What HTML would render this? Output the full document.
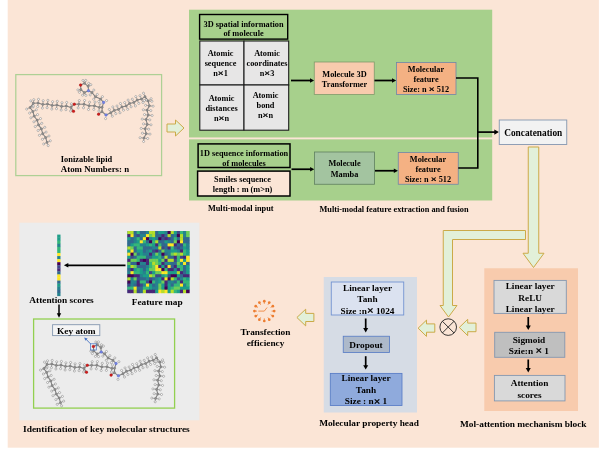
<!DOCTYPE html>
<html><head><meta charset="utf-8"><title>Figure</title>
<style>
html,body{margin:0;padding:0;background:#fff;}
svg{display:block;opacity:0.999}
.x{font-size:1.25em;stroke:#000;stroke-width:0.3px}
.t{font-family:"Liberation Serif","DejaVu Serif",serif;font-weight:bold;fill:#000;}
</style></head><body>
<svg width="600" height="457" viewBox="0 0 600 457">
<rect x="0" y="0" width="600" height="457" fill="#fff"/>
<rect x="7.70" y="0.00" width="591.20" height="447.70" fill="#fbe5d6"/><rect x="189.00" y="9.70" width="303.20" height="127.75" fill="#a7d08c"/><rect x="189.00" y="139.35" width="303.20" height="61.15" fill="#a7d08c"/><rect x="15.80" y="74.60" width="145.80" height="101.00" fill="#fbe5d6" stroke="#aed095" stroke-width="1.25"/><rect x="199.60" y="14.50" width="88.10" height="24.60" fill="#a7d08c" stroke="#000" stroke-width="1.4"/><text transform="translate(243.50,26.55) scale(1.1364,1)" font-size="7.30" text-anchor="middle" class="t" >3D spatial information</text><text transform="translate(243.50,36.05) scale(1.1364,1)" font-size="7.30" text-anchor="middle" class="t" >of molecule</text><rect x="199.80" y="41.00" width="44.20" height="44.00" fill="#e7e6e6" stroke="#1c1c1c" stroke-width="1.1"/><rect x="244.00" y="41.00" width="44.70" height="44.00" fill="#e7e6e6" stroke="#1c1c1c" stroke-width="1.1"/><rect x="199.80" y="85.00" width="44.20" height="45.20" fill="#e7e6e6" stroke="#1c1c1c" stroke-width="1.1"/><rect x="244.00" y="85.00" width="44.70" height="45.20" fill="#e7e6e6" stroke="#1c1c1c" stroke-width="1.1"/><text transform="translate(220.50,56.05) scale(1.1364,1)" font-size="7.30" text-anchor="middle" class="t" >Atomic</text><text transform="translate(220.50,66.05) scale(1.1364,1)" font-size="7.30" text-anchor="middle" class="t" >sequence</text><text transform="translate(220.50,76.05) scale(1.1364,1)" font-size="7.30" text-anchor="middle" class="t" >n<tspan class="x" dy="0.04em">×</tspan><tspan dy="-0.05em">​</tspan>1</text><text transform="translate(267.00,56.00) scale(1.1364,1)" font-size="7.30" text-anchor="middle" class="t" >Atomic</text><text transform="translate(267.00,66.00) scale(1.1364,1)" font-size="7.30" text-anchor="middle" class="t" >coordinates</text><text transform="translate(267.00,76.00) scale(1.1364,1)" font-size="7.30" text-anchor="middle" class="t" >n<tspan class="x" dy="0.04em">×</tspan><tspan dy="-0.05em">​</tspan>3</text><text transform="translate(221.50,100.50) scale(1.1364,1)" font-size="7.30" text-anchor="middle" class="t" >Atomic</text><text transform="translate(221.50,110.50) scale(1.1364,1)" font-size="7.30" text-anchor="middle" class="t" >distances</text><text transform="translate(221.50,120.50) scale(1.1364,1)" font-size="7.30" text-anchor="middle" class="t" >n<tspan class="x" dy="0.04em">×</tspan><tspan dy="-0.05em">​</tspan>n</text><text transform="translate(265.50,97.90) scale(1.1364,1)" font-size="7.30" text-anchor="middle" class="t" >Atomic</text><text transform="translate(265.50,107.90) scale(1.1364,1)" font-size="7.30" text-anchor="middle" class="t" >bond</text><text transform="translate(265.50,117.90) scale(1.1364,1)" font-size="7.30" text-anchor="middle" class="t" >n<tspan class="x" dy="0.04em">×</tspan><tspan dy="-0.05em">​</tspan>n</text><rect x="198.10" y="143.90" width="91.90" height="23.60" fill="#a7d08c" stroke="#000" stroke-width="1.5"/><text transform="translate(244.00,155.95) scale(1.1364,1)" font-size="7.30" text-anchor="middle" class="t" >1D sequence information</text><text transform="translate(244.00,165.65) scale(1.1364,1)" font-size="7.30" text-anchor="middle" class="t" >of molecules</text><rect x="197.60" y="171.10" width="92.40" height="24.90" fill="#fbe5d6" stroke="#000" stroke-width="1.5"/><text transform="translate(242.50,181.70) scale(1.1364,1)" font-size="7.30" text-anchor="middle" class="t" >Smiles sequence</text><text transform="translate(242.50,191.90) scale(1.1364,1)" font-size="7.30" text-anchor="middle" class="t" >length : m (m&gt;n)</text><text transform="translate(240.75,210.80) scale(1.0870,1)" font-size="7.64" text-anchor="middle" class="t" >Multi-modal input</text><text transform="translate(394.00,211.70) scale(1.0870,1)" font-size="7.64" text-anchor="middle" class="t" >Multi-modal feature extraction and fusion</text><line x1="291.00" y1="80.50" x2="310.84" y2="80.50" stroke="#000" stroke-width="1.75"/><polygon points="314.20,80.50 310.00,78.30 310.00,82.70" fill="#000"/><rect x="314.25" y="62.00" width="60.00" height="32.50" fill="#f8cbad" stroke="#7f9a6a" stroke-width="0.8"/><text transform="translate(344.50,76.80) scale(1.1364,1)" font-size="7.30" text-anchor="middle" class="t" >Molecule 3D</text><text transform="translate(344.50,86.80) scale(1.1364,1)" font-size="7.30" text-anchor="middle" class="t" >Transformer</text><line x1="374.50" y1="80.50" x2="392.84" y2="80.50" stroke="#000" stroke-width="1.75"/><polygon points="396.20,80.50 392.00,78.30 392.00,82.70" fill="#000"/><rect x="396.50" y="62.50" width="59.50" height="32.00" fill="#f4b183" stroke="#6f86a8" stroke-width="0.8"/><text transform="translate(426.00,71.55) scale(1.1364,1)" font-size="7.30" text-anchor="middle" class="t" >Molecular</text><text transform="translate(426.00,81.55) scale(1.1364,1)" font-size="7.30" text-anchor="middle" class="t" >feature</text><text transform="translate(426.00,91.55) scale(1.1364,1)" font-size="7.30" text-anchor="middle" class="t" >Size: n <tspan class="x" dy="0.04em">×</tspan><tspan dy="-0.05em">​</tspan> 512</text><line x1="291.50" y1="169.25" x2="310.94" y2="169.25" stroke="#000" stroke-width="1.75"/><polygon points="314.30,169.25 310.10,167.05 310.10,171.45" fill="#000"/><rect x="314.50" y="152.00" width="60.00" height="32.25" fill="#a3c4a0" stroke="#5f7f5f" stroke-width="0.8"/><text transform="translate(344.50,166.05) scale(1.1364,1)" font-size="7.30" text-anchor="middle" class="t" >Molecule</text><text transform="translate(344.50,176.55) scale(1.1364,1)" font-size="7.30" text-anchor="middle" class="t" >Mamba</text><line x1="375.00" y1="170.75" x2="394.64" y2="170.75" stroke="#000" stroke-width="1.75"/><polygon points="398.00,170.75 393.80,168.55 393.80,172.95" fill="#000"/><rect x="398.25" y="152.50" width="60.00" height="31.75" fill="#f4b183" stroke="#6f86a8" stroke-width="0.8"/><text transform="translate(428.00,162.00) scale(1.1364,1)" font-size="7.30" text-anchor="middle" class="t" >Molecular</text><text transform="translate(428.00,172.00) scale(1.1364,1)" font-size="7.30" text-anchor="middle" class="t" >feature</text><text transform="translate(428.00,182.00) scale(1.1364,1)" font-size="7.30" text-anchor="middle" class="t" >Size: n <tspan class="x" dy="0.04em">×</tspan><tspan dy="-0.05em">​</tspan> 512</text><polyline points="456,78 477.8,78 477.8,168 458.25,168" fill="none" stroke="#000" stroke-width="1.6"/><line x1="477.80" y1="132.10" x2="495.22" y2="132.10" stroke="#000" stroke-width="1.7"/><polygon points="498.90,132.10 494.30,129.45 494.30,134.75" fill="#000"/><rect x="499.25" y="120.00" width="67.50" height="24.50" fill="#f2f2f2" stroke="#8497b0" stroke-width="0.9"/><text transform="translate(533.20,136.00) scale(0.8403,1)" font-size="11.13" text-anchor="middle" class="t" >Concatenation</text><polygon points="167.00,124.00 175.50,124.00 175.50,120.00 184.00,128.00 175.50,136.00 175.50,132.00 167.00,132.00" fill="#e2f0d9" stroke="#cbaa48" stroke-width="1.0" stroke-linejoin="miter"/><polygon points="528.25,147.00 538.75,147.00 538.75,253.25 544.00,253.25 533.50,267.50 523.00,253.25 528.25,253.25" fill="#e2f0d9" stroke="#cbaa48" stroke-width="1.0" stroke-linejoin="miter"/><polygon points="525.50,230.50 443.25,230.50 443.25,305.50 440.00,305.50 448.50,317.00 457.00,305.50 452.50,305.50 452.50,239.50 525.50,239.50" fill="#e2f0d9" stroke="#cbaa48" stroke-width="1.0" stroke-linejoin="miter"/><circle cx="448.2" cy="327.1" r="8.3" fill="none" stroke="#222" stroke-width="0.9"/><path d="M442.3 321.2 L454.1 333 M454.1 321.2 L442.3 333" stroke="#222" stroke-width="0.9" fill="none"/><polygon points="459.30,327.45 467.70,319.30 467.70,323.10 476.00,323.10 476.00,331.70 467.70,331.70 467.70,335.60" fill="#e2f0d9" stroke="#cbaa48" stroke-width="1.0" stroke-linejoin="miter"/><polygon points="418.10,328.20 426.50,320.10 426.50,323.90 434.80,323.90 434.80,332.20 426.50,332.20 426.50,336.40" fill="#e2f0d9" stroke="#cbaa48" stroke-width="1.0" stroke-linejoin="miter"/><polygon points="296.90,317.50 305.70,309.20 305.70,313.40 313.90,313.40 313.90,321.50 305.70,321.50 305.70,325.90" fill="#e2f0d9" stroke="#cbaa48" stroke-width="1.0" stroke-linejoin="miter"/><rect x="484.30" y="268.25" width="93.70" height="142.75" fill="#f8cbad"/><rect x="494.00" y="280.40" width="72.30" height="33.00" fill="#d9d9d9" stroke="#8497b0" stroke-width="0.9"/><text transform="translate(530.20,289.39) scale(1.1628,1)" font-size="8.00" text-anchor="middle" class="t" >Linear layer</text><text transform="translate(530.20,300.84) scale(1.1628,1)" font-size="8.00" text-anchor="middle" class="t" >ReLU</text><text transform="translate(530.20,312.29) scale(1.1628,1)" font-size="8.00" text-anchor="middle" class="t" >Linear layer</text><line x1="528.25" y1="317.00" x2="528.25" y2="326.48" stroke="#000" stroke-width="1.7"/><polygon points="528.25,330.00 525.75,325.60 530.75,325.60" fill="#000"/><rect x="494.70" y="332.30" width="70.10" height="25.00" fill="#bfbfbf" stroke="#8497b0" stroke-width="0.9"/><text transform="translate(528.90,342.74) scale(1.1628,1)" font-size="8.00" text-anchor="middle" class="t" >Sigmoid</text><text transform="translate(528.90,353.94) scale(1.1628,1)" font-size="8.00" text-anchor="middle" class="t" >Szie:n <tspan class="x" dy="0.04em">×</tspan><tspan dy="-0.05em">​</tspan> 1</text><line x1="528.25" y1="359.50" x2="528.25" y2="368.98" stroke="#000" stroke-width="1.7"/><polygon points="528.25,372.50 525.75,368.10 530.75,368.10" fill="#000"/><rect x="494.40" y="375.40" width="70.60" height="25.50" fill="#d9d9d9" stroke="#8497b0" stroke-width="0.9"/><text transform="translate(529.50,386.19) scale(1.1628,1)" font-size="8.00" text-anchor="middle" class="t" >Attention</text><text transform="translate(529.50,397.89) scale(1.1628,1)" font-size="8.00" text-anchor="middle" class="t" >scores</text><text transform="translate(523.30,427.15) scale(1.0256,1)" font-size="9.12" text-anchor="middle" class="t" >Mol-attention mechanism block</text><rect x="323.75" y="277.00" width="93.25" height="135.50" fill="#d6dce5"/><rect x="331.25" y="282.00" width="72.50" height="33.00" fill="#dbe2f0" stroke="#6d8fd0" stroke-width="0.85"/><text transform="translate(367.50,290.74) scale(1.1628,1)" font-size="8.00" text-anchor="middle" class="t" >Linear layer</text><text transform="translate(367.50,302.14) scale(1.1628,1)" font-size="8.00" text-anchor="middle" class="t" >Tanh</text><text transform="translate(367.50,313.54) scale(1.1628,1)" font-size="8.00" text-anchor="middle" class="t" >Size :n<tspan class="x" dy="0.04em">×</tspan><tspan dy="-0.05em">​</tspan> 1024</text><line x1="365.70" y1="318.50" x2="365.70" y2="328.88" stroke="#000" stroke-width="1.7"/><polygon points="365.70,332.40 363.20,328.00 368.20,328.00" fill="#000"/><rect x="343.25" y="336.25" width="46.25" height="16.25" fill="#adb9ca" stroke="#5a7ec6" stroke-width="0.85"/><text transform="translate(366.00,347.54) scale(1.1628,1)" font-size="8.00" text-anchor="middle" class="t" >Dropout</text><line x1="365.70" y1="356.20" x2="365.70" y2="366.08" stroke="#000" stroke-width="1.7"/><polygon points="365.70,369.60 363.20,365.20 368.20,365.20" fill="#000"/><rect x="330.30" y="373.40" width="71.70" height="32.10" fill="#8faadc" stroke="#587cc6" stroke-width="0.85"/><text transform="translate(366.00,381.09) scale(1.1628,1)" font-size="8.00" text-anchor="middle" class="t" >Linear layer</text><text transform="translate(366.00,392.64) scale(1.1628,1)" font-size="8.00" text-anchor="middle" class="t" >Tanh</text><text transform="translate(366.00,404.19) scale(1.1628,1)" font-size="8.00" text-anchor="middle" class="t" >Size : n<tspan class="x" dy="0.04em">×</tspan><tspan dy="-0.05em">​</tspan> 1</text><text transform="translate(369.00,425.50) scale(1.0256,1)" font-size="9.12" text-anchor="middle" class="t" >Molecular property head</text><line x1="264.30" y1="301.20" x2="264.30" y2="303.80" stroke="#ed7d31" stroke-width="0.8"/><circle cx="264.30" cy="301.20" r="1.35" fill="#ed7d31"/><line x1="269.25" y1="302.53" x2="267.95" y2="304.78" stroke="#ed7d31" stroke-width="0.8"/><circle cx="269.25" cy="302.53" r="1.35" fill="#ed7d31"/><line x1="272.87" y1="306.15" x2="270.62" y2="307.45" stroke="#ed7d31" stroke-width="0.8"/><circle cx="272.87" cy="306.15" r="1.35" fill="#ed7d31"/><line x1="274.20" y1="311.10" x2="271.60" y2="311.10" stroke="#ed7d31" stroke-width="0.8"/><circle cx="274.20" cy="311.10" r="1.35" fill="#ed7d31"/><line x1="272.87" y1="316.05" x2="270.62" y2="314.75" stroke="#ed7d31" stroke-width="0.8"/><circle cx="272.87" cy="316.05" r="1.35" fill="#ed7d31"/><line x1="269.25" y1="319.67" x2="267.95" y2="317.42" stroke="#ed7d31" stroke-width="0.8"/><circle cx="269.25" cy="319.67" r="1.35" fill="#ed7d31"/><line x1="264.30" y1="321.00" x2="264.30" y2="318.40" stroke="#ed7d31" stroke-width="0.8"/><circle cx="264.30" cy="321.00" r="1.35" fill="#ed7d31"/><line x1="259.35" y1="319.67" x2="260.65" y2="317.42" stroke="#ed7d31" stroke-width="0.8"/><circle cx="259.35" cy="319.67" r="1.35" fill="#ed7d31"/><line x1="255.73" y1="316.05" x2="257.98" y2="314.75" stroke="#ed7d31" stroke-width="0.8"/><circle cx="255.73" cy="316.05" r="1.35" fill="#ed7d31"/><line x1="254.40" y1="311.10" x2="257.00" y2="311.10" stroke="#ed7d31" stroke-width="0.8"/><circle cx="254.40" cy="311.10" r="1.35" fill="#ed7d31"/><line x1="255.73" y1="306.15" x2="257.98" y2="307.45" stroke="#ed7d31" stroke-width="0.8"/><circle cx="255.73" cy="306.15" r="1.35" fill="#ed7d31"/><line x1="259.35" y1="302.53" x2="260.65" y2="304.78" stroke="#ed7d31" stroke-width="0.8"/><circle cx="259.35" cy="302.53" r="1.35" fill="#ed7d31"/><path d="M258.3 311.1 L264.3 311.1 L267.1 307.5" stroke="#ed7d31" stroke-width="0.8" fill="none"/><text transform="translate(265.50,335.39) scale(1.0256,1)" font-size="9.07" text-anchor="middle" class="t" >Transfection</text><text transform="translate(265.50,346.29) scale(1.0256,1)" font-size="9.07" text-anchor="middle" class="t" >efficiency</text><rect x="19.30" y="222.70" width="180.10" height="197.60" fill="#ececec"/><rect x="57.20" y="234.60" width="3.30" height="3.26" fill="#1f9e89"/><rect x="57.20" y="237.66" width="3.30" height="3.26" fill="#1f9e89"/><rect x="57.20" y="240.73" width="3.30" height="3.26" fill="#35b779"/><rect x="57.20" y="243.79" width="3.30" height="3.26" fill="#26828e"/><rect x="57.20" y="246.86" width="3.30" height="3.26" fill="#35b779"/><rect x="57.20" y="249.92" width="3.30" height="3.27" fill="#35b779"/><rect x="57.20" y="252.99" width="3.30" height="3.26" fill="#fde725"/><rect x="57.20" y="256.06" width="3.30" height="3.26" fill="#26828e"/><rect x="57.20" y="259.12" width="3.30" height="3.26" fill="#fde725"/><rect x="57.20" y="262.19" width="3.30" height="3.26" fill="#440154"/><rect x="57.20" y="265.25" width="3.30" height="3.26" fill="#3e4989"/><rect x="57.20" y="268.31" width="3.30" height="3.26" fill="#482878"/><rect x="57.20" y="271.38" width="3.30" height="3.26" fill="#31688e"/><rect x="57.20" y="274.44" width="3.30" height="3.26" fill="#fde725"/><rect x="57.20" y="277.51" width="3.30" height="3.26" fill="#fde725"/><rect x="57.20" y="280.57" width="3.30" height="3.26" fill="#31688e"/><rect x="57.20" y="283.64" width="3.30" height="3.26" fill="#1f9e89"/><rect x="57.20" y="286.70" width="3.30" height="3.26" fill="#26828e"/><rect x="57.20" y="289.77" width="3.30" height="3.26" fill="#31688e"/><rect x="57.20" y="292.83" width="3.30" height="3.26" fill="#26828e"/><line x1="125.50" y1="265.30" x2="67.42" y2="265.30" stroke="#000" stroke-width="1.8"/><polygon points="63.90,265.30 68.30,263.00 68.30,267.60" fill="#000"/><text transform="translate(61.50,303.10) scale(1.0870,1)" font-size="8.60" text-anchor="middle" class="t" >Attention scores</text><line x1="59.00" y1="304.50" x2="59.00" y2="314.10" stroke="#000" stroke-width="1.5"/><polygon points="59.00,317.70 56.80,313.20 61.20,313.20" fill="#000"/><text transform="translate(157.20,304.50) scale(1.0256,1)" font-size="9.12" text-anchor="middle" class="t" >Feature map</text><defs><filter id="bl" x="-5%" y="-5%" width="110%" height="110%"><feGaussianBlur stdDeviation="0.45"/></filter></defs><rect x="127.4" y="231" width="61.8" height="61.8" fill="#2a788e"/><g filter="url(#bl)"><rect x="127.40" y="231.00" width="3.49" height="3.49" fill="#b5de2b"/><rect x="130.49" y="231.00" width="3.49" height="3.49" fill="#b5de2b"/><rect x="133.58" y="231.00" width="3.49" height="3.49" fill="#31688e"/><rect x="136.67" y="231.00" width="3.49" height="3.49" fill="#35b779"/><rect x="139.76" y="231.00" width="3.49" height="3.49" fill="#31688e"/><rect x="142.85" y="231.00" width="3.49" height="3.49" fill="#31688e"/><rect x="145.94" y="231.00" width="3.49" height="3.49" fill="#26828e"/><rect x="149.03" y="231.00" width="3.49" height="3.49" fill="#b5de2b"/><rect x="152.12" y="231.00" width="3.49" height="3.49" fill="#b5de2b"/><rect x="155.21" y="231.00" width="3.49" height="3.49" fill="#31688e"/><rect x="158.30" y="231.00" width="3.49" height="3.49" fill="#1f9e89"/><rect x="161.39" y="231.00" width="3.49" height="3.49" fill="#1f9e89"/><rect x="164.48" y="231.00" width="3.49" height="3.49" fill="#26828e"/><rect x="167.57" y="231.00" width="3.49" height="3.49" fill="#440154"/><rect x="170.66" y="231.00" width="3.49" height="3.49" fill="#b5de2b"/><rect x="173.75" y="231.00" width="3.49" height="3.49" fill="#1f9e89"/><rect x="176.84" y="231.00" width="3.49" height="3.49" fill="#3e4989"/><rect x="179.93" y="231.00" width="3.49" height="3.49" fill="#35b779"/><rect x="183.02" y="231.00" width="3.49" height="3.49" fill="#26828e"/><rect x="186.11" y="231.00" width="3.49" height="3.49" fill="#6ece58"/><rect x="127.40" y="234.09" width="3.49" height="3.49" fill="#482878"/><rect x="130.49" y="234.09" width="3.49" height="3.49" fill="#fde725"/><rect x="133.58" y="234.09" width="3.49" height="3.49" fill="#31688e"/><rect x="136.67" y="234.09" width="3.49" height="3.49" fill="#3e4989"/><rect x="139.76" y="234.09" width="3.49" height="3.49" fill="#26828e"/><rect x="142.85" y="234.09" width="3.49" height="3.49" fill="#26828e"/><rect x="145.94" y="234.09" width="3.49" height="3.49" fill="#fde725"/><rect x="149.03" y="234.09" width="3.49" height="3.49" fill="#6ece58"/><rect x="152.12" y="234.09" width="3.49" height="3.49" fill="#b5de2b"/><rect x="155.21" y="234.09" width="3.49" height="3.49" fill="#31688e"/><rect x="158.30" y="234.09" width="3.49" height="3.49" fill="#31688e"/><rect x="161.39" y="234.09" width="3.49" height="3.49" fill="#482878"/><rect x="164.48" y="234.09" width="3.49" height="3.49" fill="#31688e"/><rect x="167.57" y="234.09" width="3.49" height="3.49" fill="#b5de2b"/><rect x="170.66" y="234.09" width="3.49" height="3.49" fill="#31688e"/><rect x="173.75" y="234.09" width="3.49" height="3.49" fill="#26828e"/><rect x="176.84" y="234.09" width="3.49" height="3.49" fill="#440154"/><rect x="179.93" y="234.09" width="3.49" height="3.49" fill="#b5de2b"/><rect x="183.02" y="234.09" width="3.49" height="3.49" fill="#26828e"/><rect x="186.11" y="234.09" width="3.49" height="3.49" fill="#6ece58"/><rect x="127.40" y="237.18" width="3.49" height="3.49" fill="#1f9e89"/><rect x="130.49" y="237.18" width="3.49" height="3.49" fill="#31688e"/><rect x="133.58" y="237.18" width="3.49" height="3.49" fill="#26828e"/><rect x="136.67" y="237.18" width="3.49" height="3.49" fill="#35b779"/><rect x="139.76" y="237.18" width="3.49" height="3.49" fill="#31688e"/><rect x="142.85" y="237.18" width="3.49" height="3.49" fill="#fde725"/><rect x="145.94" y="237.18" width="3.49" height="3.49" fill="#440154"/><rect x="149.03" y="237.18" width="3.49" height="3.49" fill="#26828e"/><rect x="152.12" y="237.18" width="3.49" height="3.49" fill="#1f9e89"/><rect x="155.21" y="237.18" width="3.49" height="3.49" fill="#26828e"/><rect x="158.30" y="237.18" width="3.49" height="3.49" fill="#440154"/><rect x="161.39" y="237.18" width="3.49" height="3.49" fill="#3e4989"/><rect x="164.48" y="237.18" width="3.49" height="3.49" fill="#482878"/><rect x="167.57" y="237.18" width="3.49" height="3.49" fill="#3e4989"/><rect x="170.66" y="237.18" width="3.49" height="3.49" fill="#31688e"/><rect x="173.75" y="237.18" width="3.49" height="3.49" fill="#35b779"/><rect x="176.84" y="237.18" width="3.49" height="3.49" fill="#31688e"/><rect x="179.93" y="237.18" width="3.49" height="3.49" fill="#b5de2b"/><rect x="183.02" y="237.18" width="3.49" height="3.49" fill="#31688e"/><rect x="186.11" y="237.18" width="3.49" height="3.49" fill="#31688e"/><rect x="127.40" y="240.27" width="3.49" height="3.49" fill="#31688e"/><rect x="130.49" y="240.27" width="3.49" height="3.49" fill="#31688e"/><rect x="133.58" y="240.27" width="3.49" height="3.49" fill="#26828e"/><rect x="136.67" y="240.27" width="3.49" height="3.49" fill="#1f9e89"/><rect x="139.76" y="240.27" width="3.49" height="3.49" fill="#fde725"/><rect x="142.85" y="240.27" width="3.49" height="3.49" fill="#35b779"/><rect x="145.94" y="240.27" width="3.49" height="3.49" fill="#31688e"/><rect x="149.03" y="240.27" width="3.49" height="3.49" fill="#440154"/><rect x="152.12" y="240.27" width="3.49" height="3.49" fill="#35b779"/><rect x="155.21" y="240.27" width="3.49" height="3.49" fill="#b5de2b"/><rect x="158.30" y="240.27" width="3.49" height="3.49" fill="#31688e"/><rect x="161.39" y="240.27" width="3.49" height="3.49" fill="#31688e"/><rect x="164.48" y="240.27" width="3.49" height="3.49" fill="#1f9e89"/><rect x="167.57" y="240.27" width="3.49" height="3.49" fill="#26828e"/><rect x="170.66" y="240.27" width="3.49" height="3.49" fill="#31688e"/><rect x="173.75" y="240.27" width="3.49" height="3.49" fill="#6ece58"/><rect x="176.84" y="240.27" width="3.49" height="3.49" fill="#440154"/><rect x="179.93" y="240.27" width="3.49" height="3.49" fill="#fde725"/><rect x="183.02" y="240.27" width="3.49" height="3.49" fill="#31688e"/><rect x="186.11" y="240.27" width="3.49" height="3.49" fill="#31688e"/><rect x="127.40" y="243.36" width="3.49" height="3.49" fill="#31688e"/><rect x="130.49" y="243.36" width="3.49" height="3.49" fill="#1f9e89"/><rect x="133.58" y="243.36" width="3.49" height="3.49" fill="#35b779"/><rect x="136.67" y="243.36" width="3.49" height="3.49" fill="#35b779"/><rect x="139.76" y="243.36" width="3.49" height="3.49" fill="#26828e"/><rect x="142.85" y="243.36" width="3.49" height="3.49" fill="#26828e"/><rect x="145.94" y="243.36" width="3.49" height="3.49" fill="#1f9e89"/><rect x="149.03" y="243.36" width="3.49" height="3.49" fill="#35b779"/><rect x="152.12" y="243.36" width="3.49" height="3.49" fill="#1f9e89"/><rect x="155.21" y="243.36" width="3.49" height="3.49" fill="#482878"/><rect x="158.30" y="243.36" width="3.49" height="3.49" fill="#35b779"/><rect x="161.39" y="243.36" width="3.49" height="3.49" fill="#31688e"/><rect x="164.48" y="243.36" width="3.49" height="3.49" fill="#31688e"/><rect x="167.57" y="243.36" width="3.49" height="3.49" fill="#fde725"/><rect x="170.66" y="243.36" width="3.49" height="3.49" fill="#fde725"/><rect x="173.75" y="243.36" width="3.49" height="3.49" fill="#482878"/><rect x="176.84" y="243.36" width="3.49" height="3.49" fill="#31688e"/><rect x="179.93" y="243.36" width="3.49" height="3.49" fill="#3e4989"/><rect x="183.02" y="243.36" width="3.49" height="3.49" fill="#35b779"/><rect x="186.11" y="243.36" width="3.49" height="3.49" fill="#26828e"/><rect x="127.40" y="246.45" width="3.49" height="3.49" fill="#b5de2b"/><rect x="130.49" y="246.45" width="3.49" height="3.49" fill="#6ece58"/><rect x="133.58" y="246.45" width="3.49" height="3.49" fill="#31688e"/><rect x="136.67" y="246.45" width="3.49" height="3.49" fill="#35b779"/><rect x="139.76" y="246.45" width="3.49" height="3.49" fill="#35b779"/><rect x="142.85" y="246.45" width="3.49" height="3.49" fill="#31688e"/><rect x="145.94" y="246.45" width="3.49" height="3.49" fill="#31688e"/><rect x="149.03" y="246.45" width="3.49" height="3.49" fill="#31688e"/><rect x="152.12" y="246.45" width="3.49" height="3.49" fill="#26828e"/><rect x="155.21" y="246.45" width="3.49" height="3.49" fill="#26828e"/><rect x="158.30" y="246.45" width="3.49" height="3.49" fill="#b5de2b"/><rect x="161.39" y="246.45" width="3.49" height="3.49" fill="#3e4989"/><rect x="164.48" y="246.45" width="3.49" height="3.49" fill="#31688e"/><rect x="167.57" y="246.45" width="3.49" height="3.49" fill="#482878"/><rect x="170.66" y="246.45" width="3.49" height="3.49" fill="#35b779"/><rect x="173.75" y="246.45" width="3.49" height="3.49" fill="#31688e"/><rect x="176.84" y="246.45" width="3.49" height="3.49" fill="#3e4989"/><rect x="179.93" y="246.45" width="3.49" height="3.49" fill="#31688e"/><rect x="183.02" y="246.45" width="3.49" height="3.49" fill="#1f9e89"/><rect x="186.11" y="246.45" width="3.49" height="3.49" fill="#26828e"/><rect x="127.40" y="249.54" width="3.49" height="3.49" fill="#1f9e89"/><rect x="130.49" y="249.54" width="3.49" height="3.49" fill="#fde725"/><rect x="133.58" y="249.54" width="3.49" height="3.49" fill="#31688e"/><rect x="136.67" y="249.54" width="3.49" height="3.49" fill="#1f9e89"/><rect x="139.76" y="249.54" width="3.49" height="3.49" fill="#1f9e89"/><rect x="142.85" y="249.54" width="3.49" height="3.49" fill="#31688e"/><rect x="145.94" y="249.54" width="3.49" height="3.49" fill="#26828e"/><rect x="149.03" y="249.54" width="3.49" height="3.49" fill="#1f9e89"/><rect x="152.12" y="249.54" width="3.49" height="3.49" fill="#3e4989"/><rect x="155.21" y="249.54" width="3.49" height="3.49" fill="#482878"/><rect x="158.30" y="249.54" width="3.49" height="3.49" fill="#31688e"/><rect x="161.39" y="249.54" width="3.49" height="3.49" fill="#6ece58"/><rect x="164.48" y="249.54" width="3.49" height="3.49" fill="#26828e"/><rect x="167.57" y="249.54" width="3.49" height="3.49" fill="#26828e"/><rect x="170.66" y="249.54" width="3.49" height="3.49" fill="#1f9e89"/><rect x="173.75" y="249.54" width="3.49" height="3.49" fill="#1f9e89"/><rect x="176.84" y="249.54" width="3.49" height="3.49" fill="#26828e"/><rect x="179.93" y="249.54" width="3.49" height="3.49" fill="#482878"/><rect x="183.02" y="249.54" width="3.49" height="3.49" fill="#35b779"/><rect x="186.11" y="249.54" width="3.49" height="3.49" fill="#1f9e89"/><rect x="127.40" y="252.63" width="3.49" height="3.49" fill="#fde725"/><rect x="130.49" y="252.63" width="3.49" height="3.49" fill="#440154"/><rect x="133.58" y="252.63" width="3.49" height="3.49" fill="#6ece58"/><rect x="136.67" y="252.63" width="3.49" height="3.49" fill="#31688e"/><rect x="139.76" y="252.63" width="3.49" height="3.49" fill="#1f9e89"/><rect x="142.85" y="252.63" width="3.49" height="3.49" fill="#26828e"/><rect x="145.94" y="252.63" width="3.49" height="3.49" fill="#26828e"/><rect x="149.03" y="252.63" width="3.49" height="3.49" fill="#482878"/><rect x="152.12" y="252.63" width="3.49" height="3.49" fill="#26828e"/><rect x="155.21" y="252.63" width="3.49" height="3.49" fill="#6ece58"/><rect x="158.30" y="252.63" width="3.49" height="3.49" fill="#1f9e89"/><rect x="161.39" y="252.63" width="3.49" height="3.49" fill="#440154"/><rect x="164.48" y="252.63" width="3.49" height="3.49" fill="#31688e"/><rect x="167.57" y="252.63" width="3.49" height="3.49" fill="#26828e"/><rect x="170.66" y="252.63" width="3.49" height="3.49" fill="#6ece58"/><rect x="173.75" y="252.63" width="3.49" height="3.49" fill="#b5de2b"/><rect x="176.84" y="252.63" width="3.49" height="3.49" fill="#6ece58"/><rect x="179.93" y="252.63" width="3.49" height="3.49" fill="#b5de2b"/><rect x="183.02" y="252.63" width="3.49" height="3.49" fill="#35b779"/><rect x="186.11" y="252.63" width="3.49" height="3.49" fill="#1f9e89"/><rect x="127.40" y="255.72" width="3.49" height="3.49" fill="#1f9e89"/><rect x="130.49" y="255.72" width="3.49" height="3.49" fill="#3e4989"/><rect x="133.58" y="255.72" width="3.49" height="3.49" fill="#31688e"/><rect x="136.67" y="255.72" width="3.49" height="3.49" fill="#35b779"/><rect x="139.76" y="255.72" width="3.49" height="3.49" fill="#35b779"/><rect x="142.85" y="255.72" width="3.49" height="3.49" fill="#35b779"/><rect x="145.94" y="255.72" width="3.49" height="3.49" fill="#31688e"/><rect x="149.03" y="255.72" width="3.49" height="3.49" fill="#31688e"/><rect x="152.12" y="255.72" width="3.49" height="3.49" fill="#1f9e89"/><rect x="155.21" y="255.72" width="3.49" height="3.49" fill="#1f9e89"/><rect x="158.30" y="255.72" width="3.49" height="3.49" fill="#35b779"/><rect x="161.39" y="255.72" width="3.49" height="3.49" fill="#31688e"/><rect x="164.48" y="255.72" width="3.49" height="3.49" fill="#b5de2b"/><rect x="167.57" y="255.72" width="3.49" height="3.49" fill="#31688e"/><rect x="170.66" y="255.72" width="3.49" height="3.49" fill="#31688e"/><rect x="173.75" y="255.72" width="3.49" height="3.49" fill="#482878"/><rect x="176.84" y="255.72" width="3.49" height="3.49" fill="#35b779"/><rect x="179.93" y="255.72" width="3.49" height="3.49" fill="#3e4989"/><rect x="183.02" y="255.72" width="3.49" height="3.49" fill="#482878"/><rect x="186.11" y="255.72" width="3.49" height="3.49" fill="#fde725"/><rect x="127.40" y="258.81" width="3.49" height="3.49" fill="#482878"/><rect x="130.49" y="258.81" width="3.49" height="3.49" fill="#6ece58"/><rect x="133.58" y="258.81" width="3.49" height="3.49" fill="#6ece58"/><rect x="136.67" y="258.81" width="3.49" height="3.49" fill="#35b779"/><rect x="139.76" y="258.81" width="3.49" height="3.49" fill="#482878"/><rect x="142.85" y="258.81" width="3.49" height="3.49" fill="#440154"/><rect x="145.94" y="258.81" width="3.49" height="3.49" fill="#482878"/><rect x="149.03" y="258.81" width="3.49" height="3.49" fill="#6ece58"/><rect x="152.12" y="258.81" width="3.49" height="3.49" fill="#6ece58"/><rect x="155.21" y="258.81" width="3.49" height="3.49" fill="#6ece58"/><rect x="158.30" y="258.81" width="3.49" height="3.49" fill="#1f9e89"/><rect x="161.39" y="258.81" width="3.49" height="3.49" fill="#6ece58"/><rect x="164.48" y="258.81" width="3.49" height="3.49" fill="#482878"/><rect x="167.57" y="258.81" width="3.49" height="3.49" fill="#b5de2b"/><rect x="170.66" y="258.81" width="3.49" height="3.49" fill="#b5de2b"/><rect x="173.75" y="258.81" width="3.49" height="3.49" fill="#3e4989"/><rect x="176.84" y="258.81" width="3.49" height="3.49" fill="#35b779"/><rect x="179.93" y="258.81" width="3.49" height="3.49" fill="#fde725"/><rect x="183.02" y="258.81" width="3.49" height="3.49" fill="#1f9e89"/><rect x="186.11" y="258.81" width="3.49" height="3.49" fill="#fde725"/><rect x="127.40" y="261.90" width="3.49" height="3.49" fill="#6ece58"/><rect x="130.49" y="261.90" width="3.49" height="3.49" fill="#31688e"/><rect x="133.58" y="261.90" width="3.49" height="3.49" fill="#31688e"/><rect x="136.67" y="261.90" width="3.49" height="3.49" fill="#440154"/><rect x="139.76" y="261.90" width="3.49" height="3.49" fill="#26828e"/><rect x="142.85" y="261.90" width="3.49" height="3.49" fill="#26828e"/><rect x="145.94" y="261.90" width="3.49" height="3.49" fill="#482878"/><rect x="149.03" y="261.90" width="3.49" height="3.49" fill="#35b779"/><rect x="152.12" y="261.90" width="3.49" height="3.49" fill="#b5de2b"/><rect x="155.21" y="261.90" width="3.49" height="3.49" fill="#6ece58"/><rect x="158.30" y="261.90" width="3.49" height="3.49" fill="#35b779"/><rect x="161.39" y="261.90" width="3.49" height="3.49" fill="#482878"/><rect x="164.48" y="261.90" width="3.49" height="3.49" fill="#26828e"/><rect x="167.57" y="261.90" width="3.49" height="3.49" fill="#26828e"/><rect x="170.66" y="261.90" width="3.49" height="3.49" fill="#31688e"/><rect x="173.75" y="261.90" width="3.49" height="3.49" fill="#31688e"/><rect x="176.84" y="261.90" width="3.49" height="3.49" fill="#6ece58"/><rect x="179.93" y="261.90" width="3.49" height="3.49" fill="#26828e"/><rect x="183.02" y="261.90" width="3.49" height="3.49" fill="#fde725"/><rect x="186.11" y="261.90" width="3.49" height="3.49" fill="#31688e"/><rect x="127.40" y="264.99" width="3.49" height="3.49" fill="#1f9e89"/><rect x="130.49" y="264.99" width="3.49" height="3.49" fill="#b5de2b"/><rect x="133.58" y="264.99" width="3.49" height="3.49" fill="#6ece58"/><rect x="136.67" y="264.99" width="3.49" height="3.49" fill="#31688e"/><rect x="139.76" y="264.99" width="3.49" height="3.49" fill="#31688e"/><rect x="142.85" y="264.99" width="3.49" height="3.49" fill="#31688e"/><rect x="145.94" y="264.99" width="3.49" height="3.49" fill="#26828e"/><rect x="149.03" y="264.99" width="3.49" height="3.49" fill="#35b779"/><rect x="152.12" y="264.99" width="3.49" height="3.49" fill="#6ece58"/><rect x="155.21" y="264.99" width="3.49" height="3.49" fill="#fde725"/><rect x="158.30" y="264.99" width="3.49" height="3.49" fill="#482878"/><rect x="161.39" y="264.99" width="3.49" height="3.49" fill="#1f9e89"/><rect x="164.48" y="264.99" width="3.49" height="3.49" fill="#482878"/><rect x="167.57" y="264.99" width="3.49" height="3.49" fill="#fde725"/><rect x="170.66" y="264.99" width="3.49" height="3.49" fill="#31688e"/><rect x="173.75" y="264.99" width="3.49" height="3.49" fill="#482878"/><rect x="176.84" y="264.99" width="3.49" height="3.49" fill="#35b779"/><rect x="179.93" y="264.99" width="3.49" height="3.49" fill="#35b779"/><rect x="183.02" y="264.99" width="3.49" height="3.49" fill="#31688e"/><rect x="186.11" y="264.99" width="3.49" height="3.49" fill="#1f9e89"/><rect x="127.40" y="268.08" width="3.49" height="3.49" fill="#31688e"/><rect x="130.49" y="268.08" width="3.49" height="3.49" fill="#482878"/><rect x="133.58" y="268.08" width="3.49" height="3.49" fill="#1f9e89"/><rect x="136.67" y="268.08" width="3.49" height="3.49" fill="#35b779"/><rect x="139.76" y="268.08" width="3.49" height="3.49" fill="#1f9e89"/><rect x="142.85" y="268.08" width="3.49" height="3.49" fill="#31688e"/><rect x="145.94" y="268.08" width="3.49" height="3.49" fill="#1f9e89"/><rect x="149.03" y="268.08" width="3.49" height="3.49" fill="#6ece58"/><rect x="152.12" y="268.08" width="3.49" height="3.49" fill="#6ece58"/><rect x="155.21" y="268.08" width="3.49" height="3.49" fill="#fde725"/><rect x="158.30" y="268.08" width="3.49" height="3.49" fill="#fde725"/><rect x="161.39" y="268.08" width="3.49" height="3.49" fill="#440154"/><rect x="164.48" y="268.08" width="3.49" height="3.49" fill="#35b779"/><rect x="167.57" y="268.08" width="3.49" height="3.49" fill="#482878"/><rect x="170.66" y="268.08" width="3.49" height="3.49" fill="#482878"/><rect x="173.75" y="268.08" width="3.49" height="3.49" fill="#26828e"/><rect x="176.84" y="268.08" width="3.49" height="3.49" fill="#482878"/><rect x="179.93" y="268.08" width="3.49" height="3.49" fill="#35b779"/><rect x="183.02" y="268.08" width="3.49" height="3.49" fill="#31688e"/><rect x="186.11" y="268.08" width="3.49" height="3.49" fill="#1f9e89"/><rect x="127.40" y="271.17" width="3.49" height="3.49" fill="#26828e"/><rect x="130.49" y="271.17" width="3.49" height="3.49" fill="#fde725"/><rect x="133.58" y="271.17" width="3.49" height="3.49" fill="#35b779"/><rect x="136.67" y="271.17" width="3.49" height="3.49" fill="#35b779"/><rect x="139.76" y="271.17" width="3.49" height="3.49" fill="#1f9e89"/><rect x="142.85" y="271.17" width="3.49" height="3.49" fill="#26828e"/><rect x="145.94" y="271.17" width="3.49" height="3.49" fill="#35b779"/><rect x="149.03" y="271.17" width="3.49" height="3.49" fill="#3e4989"/><rect x="152.12" y="271.17" width="3.49" height="3.49" fill="#1f9e89"/><rect x="155.21" y="271.17" width="3.49" height="3.49" fill="#6ece58"/><rect x="158.30" y="271.17" width="3.49" height="3.49" fill="#6ece58"/><rect x="161.39" y="271.17" width="3.49" height="3.49" fill="#fde725"/><rect x="164.48" y="271.17" width="3.49" height="3.49" fill="#fde725"/><rect x="167.57" y="271.17" width="3.49" height="3.49" fill="#1f9e89"/><rect x="170.66" y="271.17" width="3.49" height="3.49" fill="#1f9e89"/><rect x="173.75" y="271.17" width="3.49" height="3.49" fill="#1f9e89"/><rect x="176.84" y="271.17" width="3.49" height="3.49" fill="#b5de2b"/><rect x="179.93" y="271.17" width="3.49" height="3.49" fill="#482878"/><rect x="183.02" y="271.17" width="3.49" height="3.49" fill="#31688e"/><rect x="186.11" y="271.17" width="3.49" height="3.49" fill="#1f9e89"/><rect x="127.40" y="274.26" width="3.49" height="3.49" fill="#440154"/><rect x="130.49" y="274.26" width="3.49" height="3.49" fill="#440154"/><rect x="133.58" y="274.26" width="3.49" height="3.49" fill="#482878"/><rect x="136.67" y="274.26" width="3.49" height="3.49" fill="#482878"/><rect x="139.76" y="274.26" width="3.49" height="3.49" fill="#26828e"/><rect x="142.85" y="274.26" width="3.49" height="3.49" fill="#1f9e89"/><rect x="145.94" y="274.26" width="3.49" height="3.49" fill="#1f9e89"/><rect x="149.03" y="274.26" width="3.49" height="3.49" fill="#b5de2b"/><rect x="152.12" y="274.26" width="3.49" height="3.49" fill="#6ece58"/><rect x="155.21" y="274.26" width="3.49" height="3.49" fill="#3e4989"/><rect x="158.30" y="274.26" width="3.49" height="3.49" fill="#3e4989"/><rect x="161.39" y="274.26" width="3.49" height="3.49" fill="#1f9e89"/><rect x="164.48" y="274.26" width="3.49" height="3.49" fill="#35b779"/><rect x="167.57" y="274.26" width="3.49" height="3.49" fill="#3e4989"/><rect x="170.66" y="274.26" width="3.49" height="3.49" fill="#440154"/><rect x="173.75" y="274.26" width="3.49" height="3.49" fill="#440154"/><rect x="176.84" y="274.26" width="3.49" height="3.49" fill="#1f9e89"/><rect x="179.93" y="274.26" width="3.49" height="3.49" fill="#31688e"/><rect x="183.02" y="274.26" width="3.49" height="3.49" fill="#482878"/><rect x="186.11" y="274.26" width="3.49" height="3.49" fill="#482878"/><rect x="127.40" y="277.35" width="3.49" height="3.49" fill="#b5de2b"/><rect x="130.49" y="277.35" width="3.49" height="3.49" fill="#26828e"/><rect x="133.58" y="277.35" width="3.49" height="3.49" fill="#6ece58"/><rect x="136.67" y="277.35" width="3.49" height="3.49" fill="#3e4989"/><rect x="139.76" y="277.35" width="3.49" height="3.49" fill="#31688e"/><rect x="142.85" y="277.35" width="3.49" height="3.49" fill="#31688e"/><rect x="145.94" y="277.35" width="3.49" height="3.49" fill="#26828e"/><rect x="149.03" y="277.35" width="3.49" height="3.49" fill="#3e4989"/><rect x="152.12" y="277.35" width="3.49" height="3.49" fill="#31688e"/><rect x="155.21" y="277.35" width="3.49" height="3.49" fill="#26828e"/><rect x="158.30" y="277.35" width="3.49" height="3.49" fill="#1f9e89"/><rect x="161.39" y="277.35" width="3.49" height="3.49" fill="#482878"/><rect x="164.48" y="277.35" width="3.49" height="3.49" fill="#fde725"/><rect x="167.57" y="277.35" width="3.49" height="3.49" fill="#440154"/><rect x="170.66" y="277.35" width="3.49" height="3.49" fill="#b5de2b"/><rect x="173.75" y="277.35" width="3.49" height="3.49" fill="#35b779"/><rect x="176.84" y="277.35" width="3.49" height="3.49" fill="#3e4989"/><rect x="179.93" y="277.35" width="3.49" height="3.49" fill="#26828e"/><rect x="183.02" y="277.35" width="3.49" height="3.49" fill="#35b779"/><rect x="186.11" y="277.35" width="3.49" height="3.49" fill="#1f9e89"/><rect x="127.40" y="280.44" width="3.49" height="3.49" fill="#440154"/><rect x="130.49" y="280.44" width="3.49" height="3.49" fill="#26828e"/><rect x="133.58" y="280.44" width="3.49" height="3.49" fill="#26828e"/><rect x="136.67" y="280.44" width="3.49" height="3.49" fill="#482878"/><rect x="139.76" y="280.44" width="3.49" height="3.49" fill="#35b779"/><rect x="142.85" y="280.44" width="3.49" height="3.49" fill="#35b779"/><rect x="145.94" y="280.44" width="3.49" height="3.49" fill="#3e4989"/><rect x="149.03" y="280.44" width="3.49" height="3.49" fill="#440154"/><rect x="152.12" y="280.44" width="3.49" height="3.49" fill="#35b779"/><rect x="155.21" y="280.44" width="3.49" height="3.49" fill="#26828e"/><rect x="158.30" y="280.44" width="3.49" height="3.49" fill="#1f9e89"/><rect x="161.39" y="280.44" width="3.49" height="3.49" fill="#6ece58"/><rect x="164.48" y="280.44" width="3.49" height="3.49" fill="#482878"/><rect x="167.57" y="280.44" width="3.49" height="3.49" fill="#26828e"/><rect x="170.66" y="280.44" width="3.49" height="3.49" fill="#26828e"/><rect x="173.75" y="280.44" width="3.49" height="3.49" fill="#31688e"/><rect x="176.84" y="280.44" width="3.49" height="3.49" fill="#35b779"/><rect x="179.93" y="280.44" width="3.49" height="3.49" fill="#482878"/><rect x="183.02" y="280.44" width="3.49" height="3.49" fill="#35b779"/><rect x="186.11" y="280.44" width="3.49" height="3.49" fill="#35b779"/><rect x="127.40" y="283.53" width="3.49" height="3.49" fill="#3e4989"/><rect x="130.49" y="283.53" width="3.49" height="3.49" fill="#26828e"/><rect x="133.58" y="283.53" width="3.49" height="3.49" fill="#31688e"/><rect x="136.67" y="283.53" width="3.49" height="3.49" fill="#482878"/><rect x="139.76" y="283.53" width="3.49" height="3.49" fill="#3e4989"/><rect x="142.85" y="283.53" width="3.49" height="3.49" fill="#26828e"/><rect x="145.94" y="283.53" width="3.49" height="3.49" fill="#fde725"/><rect x="149.03" y="283.53" width="3.49" height="3.49" fill="#1f9e89"/><rect x="152.12" y="283.53" width="3.49" height="3.49" fill="#31688e"/><rect x="155.21" y="283.53" width="3.49" height="3.49" fill="#26828e"/><rect x="158.30" y="283.53" width="3.49" height="3.49" fill="#6ece58"/><rect x="161.39" y="283.53" width="3.49" height="3.49" fill="#1f9e89"/><rect x="164.48" y="283.53" width="3.49" height="3.49" fill="#482878"/><rect x="167.57" y="283.53" width="3.49" height="3.49" fill="#1f9e89"/><rect x="170.66" y="283.53" width="3.49" height="3.49" fill="#31688e"/><rect x="173.75" y="283.53" width="3.49" height="3.49" fill="#35b779"/><rect x="176.84" y="283.53" width="3.49" height="3.49" fill="#35b779"/><rect x="179.93" y="283.53" width="3.49" height="3.49" fill="#fde725"/><rect x="183.02" y="283.53" width="3.49" height="3.49" fill="#26828e"/><rect x="186.11" y="283.53" width="3.49" height="3.49" fill="#35b779"/><rect x="127.40" y="286.62" width="3.49" height="3.49" fill="#35b779"/><rect x="130.49" y="286.62" width="3.49" height="3.49" fill="#35b779"/><rect x="133.58" y="286.62" width="3.49" height="3.49" fill="#fde725"/><rect x="136.67" y="286.62" width="3.49" height="3.49" fill="#31688e"/><rect x="139.76" y="286.62" width="3.49" height="3.49" fill="#31688e"/><rect x="142.85" y="286.62" width="3.49" height="3.49" fill="#35b779"/><rect x="145.94" y="286.62" width="3.49" height="3.49" fill="#35b779"/><rect x="149.03" y="286.62" width="3.49" height="3.49" fill="#1f9e89"/><rect x="152.12" y="286.62" width="3.49" height="3.49" fill="#26828e"/><rect x="155.21" y="286.62" width="3.49" height="3.49" fill="#26828e"/><rect x="158.30" y="286.62" width="3.49" height="3.49" fill="#6ece58"/><rect x="161.39" y="286.62" width="3.49" height="3.49" fill="#1f9e89"/><rect x="164.48" y="286.62" width="3.49" height="3.49" fill="#440154"/><rect x="167.57" y="286.62" width="3.49" height="3.49" fill="#1f9e89"/><rect x="170.66" y="286.62" width="3.49" height="3.49" fill="#35b779"/><rect x="173.75" y="286.62" width="3.49" height="3.49" fill="#6ece58"/><rect x="176.84" y="286.62" width="3.49" height="3.49" fill="#6ece58"/><rect x="179.93" y="286.62" width="3.49" height="3.49" fill="#1f9e89"/><rect x="183.02" y="286.62" width="3.49" height="3.49" fill="#1f9e89"/><rect x="186.11" y="286.62" width="3.49" height="3.49" fill="#1f9e89"/><rect x="127.40" y="289.71" width="3.49" height="3.49" fill="#482878"/><rect x="130.49" y="289.71" width="3.49" height="3.49" fill="#482878"/><rect x="133.58" y="289.71" width="3.49" height="3.49" fill="#b5de2b"/><rect x="136.67" y="289.71" width="3.49" height="3.49" fill="#3e4989"/><rect x="139.76" y="289.71" width="3.49" height="3.49" fill="#31688e"/><rect x="142.85" y="289.71" width="3.49" height="3.49" fill="#b5de2b"/><rect x="145.94" y="289.71" width="3.49" height="3.49" fill="#482878"/><rect x="149.03" y="289.71" width="3.49" height="3.49" fill="#482878"/><rect x="152.12" y="289.71" width="3.49" height="3.49" fill="#482878"/><rect x="155.21" y="289.71" width="3.49" height="3.49" fill="#1f9e89"/><rect x="158.30" y="289.71" width="3.49" height="3.49" fill="#fde725"/><rect x="161.39" y="289.71" width="3.49" height="3.49" fill="#b5de2b"/><rect x="164.48" y="289.71" width="3.49" height="3.49" fill="#fde725"/><rect x="167.57" y="289.71" width="3.49" height="3.49" fill="#1f9e89"/><rect x="170.66" y="289.71" width="3.49" height="3.49" fill="#b5de2b"/><rect x="173.75" y="289.71" width="3.49" height="3.49" fill="#35b779"/><rect x="176.84" y="289.71" width="3.49" height="3.49" fill="#1f9e89"/><rect x="179.93" y="289.71" width="3.49" height="3.49" fill="#482878"/><rect x="183.02" y="289.71" width="3.49" height="3.49" fill="#b5de2b"/><rect x="186.11" y="289.71" width="3.49" height="3.49" fill="#440154"/></g><rect x="33.60" y="319.00" width="141.00" height="89.10" fill="#ececec" stroke="#92d050" stroke-width="1.3"/><rect x="52.60" y="324.70" width="47.20" height="10.90" fill="#f4f4f4" stroke="#8497b0" stroke-width="0.9"/><text transform="translate(76.30,333.60) scale(1.0256,1)" font-size="9.12" text-anchor="middle" class="t" >Key atom</text><text transform="translate(106.40,432.40) scale(1.0256,1)" font-size="9.21" text-anchor="middle" class="t" >Identification of key molecular structures</text><g><line x1="33.4" y1="103.3" x2="33.0" y2="107.0" stroke="#8a8a8a" stroke-width="0.65"/><line x1="33.4" y1="103.3" x2="33.8" y2="99.7" stroke="#8a8a8a" stroke-width="0.65"/><line x1="33.4" y1="103.3" x2="38.1" y2="103.0" stroke="#808080" stroke-width="1.05"/><line x1="38.1" y1="103.0" x2="37.7" y2="106.6" stroke="#8a8a8a" stroke-width="0.65"/><line x1="38.1" y1="103.0" x2="38.5" y2="99.3" stroke="#8a8a8a" stroke-width="0.65"/><line x1="38.1" y1="103.0" x2="42.8" y2="104.4" stroke="#808080" stroke-width="1.05"/><line x1="42.8" y1="104.4" x2="42.4" y2="108.1" stroke="#8a8a8a" stroke-width="0.65"/><line x1="42.8" y1="104.4" x2="43.2" y2="100.7" stroke="#8a8a8a" stroke-width="0.65"/><line x1="42.8" y1="104.4" x2="47.5" y2="104.0" stroke="#808080" stroke-width="1.05"/><line x1="47.5" y1="104.0" x2="47.1" y2="107.7" stroke="#8a8a8a" stroke-width="0.65"/><line x1="47.5" y1="104.0" x2="47.9" y2="100.3" stroke="#8a8a8a" stroke-width="0.65"/><line x1="47.5" y1="104.0" x2="52.2" y2="105.4" stroke="#808080" stroke-width="1.05"/><line x1="52.2" y1="105.4" x2="51.8" y2="109.1" stroke="#8a8a8a" stroke-width="0.65"/><line x1="52.2" y1="105.4" x2="52.6" y2="101.7" stroke="#8a8a8a" stroke-width="0.65"/><line x1="52.2" y1="105.4" x2="56.9" y2="105.0" stroke="#808080" stroke-width="1.05"/><line x1="56.9" y1="105.0" x2="56.5" y2="108.7" stroke="#8a8a8a" stroke-width="0.65"/><line x1="56.9" y1="105.0" x2="57.3" y2="101.3" stroke="#8a8a8a" stroke-width="0.65"/><line x1="56.9" y1="105.0" x2="61.6" y2="106.4" stroke="#808080" stroke-width="1.05"/><line x1="61.6" y1="106.4" x2="61.2" y2="110.1" stroke="#8a8a8a" stroke-width="0.65"/><line x1="61.6" y1="106.4" x2="62.0" y2="102.7" stroke="#8a8a8a" stroke-width="0.65"/><line x1="61.6" y1="106.4" x2="66.3" y2="106.0" stroke="#808080" stroke-width="1.05"/><line x1="66.3" y1="106.0" x2="65.9" y2="109.7" stroke="#8a8a8a" stroke-width="0.65"/><line x1="66.3" y1="106.0" x2="66.7" y2="102.4" stroke="#8a8a8a" stroke-width="0.65"/><line x1="66.3" y1="106.0" x2="71.0" y2="107.4" stroke="#808080" stroke-width="1.05"/><line x1="71.0" y1="107.4" x2="70.6" y2="111.1" stroke="#8a8a8a" stroke-width="0.65"/><line x1="71.0" y1="107.4" x2="71.4" y2="103.8" stroke="#8a8a8a" stroke-width="0.65"/><line x1="30.0" y1="107.5" x2="26.7" y2="109.1" stroke="#8a8a8a" stroke-width="0.65"/><line x1="30.0" y1="107.5" x2="33.3" y2="105.9" stroke="#8a8a8a" stroke-width="0.65"/><line x1="30.0" y1="107.5" x2="32.9" y2="111.5" stroke="#808080" stroke-width="1.05"/><line x1="32.9" y1="111.5" x2="29.6" y2="113.1" stroke="#8a8a8a" stroke-width="0.65"/><line x1="32.9" y1="111.5" x2="36.3" y2="109.8" stroke="#8a8a8a" stroke-width="0.65"/><line x1="32.9" y1="111.5" x2="34.2" y2="116.2" stroke="#808080" stroke-width="1.05"/><line x1="34.2" y1="116.2" x2="30.9" y2="117.8" stroke="#8a8a8a" stroke-width="0.65"/><line x1="34.2" y1="116.2" x2="37.6" y2="114.6" stroke="#8a8a8a" stroke-width="0.65"/><line x1="34.2" y1="116.2" x2="37.2" y2="120.2" stroke="#808080" stroke-width="1.05"/><line x1="37.2" y1="120.2" x2="33.9" y2="121.8" stroke="#8a8a8a" stroke-width="0.65"/><line x1="37.2" y1="120.2" x2="40.5" y2="118.6" stroke="#8a8a8a" stroke-width="0.65"/><line x1="37.2" y1="120.2" x2="38.5" y2="124.9" stroke="#808080" stroke-width="1.05"/><line x1="38.5" y1="124.9" x2="35.2" y2="126.6" stroke="#8a8a8a" stroke-width="0.65"/><line x1="38.5" y1="124.9" x2="41.8" y2="123.3" stroke="#8a8a8a" stroke-width="0.65"/><line x1="38.5" y1="124.9" x2="41.4" y2="128.9" stroke="#808080" stroke-width="1.05"/><line x1="41.4" y1="128.9" x2="38.1" y2="130.5" stroke="#8a8a8a" stroke-width="0.65"/><line x1="41.4" y1="128.9" x2="44.8" y2="127.3" stroke="#8a8a8a" stroke-width="0.65"/><line x1="41.4" y1="128.9" x2="42.7" y2="133.7" stroke="#808080" stroke-width="1.05"/><line x1="42.7" y1="133.7" x2="39.4" y2="135.3" stroke="#8a8a8a" stroke-width="0.65"/><line x1="42.7" y1="133.7" x2="46.1" y2="132.1" stroke="#8a8a8a" stroke-width="0.65"/><line x1="42.7" y1="133.7" x2="45.7" y2="137.6" stroke="#808080" stroke-width="1.05"/><line x1="45.7" y1="137.6" x2="42.4" y2="139.3" stroke="#8a8a8a" stroke-width="0.65"/><line x1="45.7" y1="137.6" x2="49.0" y2="136.0" stroke="#8a8a8a" stroke-width="0.65"/><line x1="45.7" y1="137.6" x2="47.0" y2="142.4" stroke="#808080" stroke-width="1.05"/><line x1="47.0" y1="142.4" x2="43.7" y2="144.0" stroke="#8a8a8a" stroke-width="0.65"/><line x1="47.0" y1="142.4" x2="50.3" y2="140.8" stroke="#8a8a8a" stroke-width="0.65"/><line x1="33.4" y1="103.3" x2="30.0" y2="107.5" stroke="#808080" stroke-width="1.05"/><line x1="71.0" y1="107.4" x2="74.3" y2="104.2" stroke="#808080" stroke-width="1.05"/><line x1="71.0" y1="107.4" x2="73.5" y2="111.3" stroke="#808080" stroke-width="1.05"/><line x1="78.7" y1="104.2" x2="78.2" y2="107.9" stroke="#8a8a8a" stroke-width="0.65"/><line x1="78.7" y1="104.2" x2="79.3" y2="100.6" stroke="#8a8a8a" stroke-width="0.65"/><line x1="78.7" y1="104.2" x2="84.0" y2="104.2" stroke="#808080" stroke-width="1.05"/><line x1="84.0" y1="104.2" x2="83.5" y2="107.8" stroke="#8a8a8a" stroke-width="0.65"/><line x1="84.0" y1="104.2" x2="84.6" y2="100.5" stroke="#8a8a8a" stroke-width="0.65"/><line x1="84.0" y1="104.2" x2="89.1" y2="105.8" stroke="#808080" stroke-width="1.05"/><line x1="89.1" y1="105.8" x2="88.5" y2="109.5" stroke="#8a8a8a" stroke-width="0.65"/><line x1="89.1" y1="105.8" x2="89.6" y2="102.2" stroke="#8a8a8a" stroke-width="0.65"/><line x1="89.1" y1="105.8" x2="94.4" y2="105.8" stroke="#808080" stroke-width="1.05"/><line x1="94.4" y1="105.8" x2="93.8" y2="109.4" stroke="#8a8a8a" stroke-width="0.65"/><line x1="94.4" y1="105.8" x2="95.0" y2="102.1" stroke="#8a8a8a" stroke-width="0.65"/><line x1="94.4" y1="105.8" x2="99.4" y2="107.4" stroke="#808080" stroke-width="1.05"/><line x1="99.4" y1="107.4" x2="98.9" y2="111.1" stroke="#8a8a8a" stroke-width="0.65"/><line x1="99.4" y1="107.4" x2="100.0" y2="103.8" stroke="#8a8a8a" stroke-width="0.65"/><line x1="74.3" y1="104.2" x2="78.7" y2="104.2" stroke="#808080" stroke-width="1.05"/><line x1="99.4" y1="107.4" x2="102.2" y2="107.3" stroke="#808080" stroke-width="1.05"/><line x1="102.2" y1="107.3" x2="103.6" y2="102.4" stroke="#808080" stroke-width="1.05"/><line x1="100.6" y1="99.1" x2="102.4" y2="96.7" stroke="#8a8a8a" stroke-width="0.65"/><line x1="100.6" y1="99.1" x2="98.8" y2="101.5" stroke="#8a8a8a" stroke-width="0.65"/><line x1="100.6" y1="99.1" x2="95.5" y2="96.8" stroke="#808080" stroke-width="1.05"/><line x1="95.5" y1="96.8" x2="97.3" y2="94.4" stroke="#8a8a8a" stroke-width="0.65"/><line x1="95.5" y1="96.8" x2="93.7" y2="99.2" stroke="#8a8a8a" stroke-width="0.65"/><line x1="95.5" y1="96.8" x2="92.0" y2="92.5" stroke="#808080" stroke-width="1.05"/><line x1="92.0" y1="92.5" x2="93.8" y2="90.1" stroke="#8a8a8a" stroke-width="0.65"/><line x1="92.0" y1="92.5" x2="90.2" y2="94.9" stroke="#8a8a8a" stroke-width="0.65"/><line x1="103.6" y1="102.4" x2="100.6" y2="99.1" stroke="#808080" stroke-width="1.05"/><line x1="92.0" y1="92.5" x2="88.5" y2="90.7" stroke="#808080" stroke-width="1.05"/><line x1="88.5" y1="90.7" x2="88.2" y2="86.3" stroke="#808080" stroke-width="1.05"/><line x1="88.2" y1="86.3" x2="84.6" y2="83.3" stroke="#808080" stroke-width="1.05"/><line x1="84.6" y1="83.3" x2="80.6" y2="85.1" stroke="#808080" stroke-width="1.05"/><line x1="80.6" y1="85.1" x2="80.9" y2="89.6" stroke="#808080" stroke-width="1.05"/><line x1="80.9" y1="89.6" x2="84.4" y2="92.6" stroke="#808080" stroke-width="1.05"/><line x1="84.4" y1="92.6" x2="88.5" y2="90.7" stroke="#808080" stroke-width="1.05"/><line x1="88.2" y1="86.3" x2="90.8" y2="84.7" stroke="#8a8a8a" stroke-width="0.65"/><line x1="88.2" y1="86.3" x2="88.7" y2="83.3" stroke="#8a8a8a" stroke-width="0.65"/><line x1="84.6" y1="83.3" x2="85.8" y2="80.4" stroke="#8a8a8a" stroke-width="0.65"/><line x1="84.6" y1="83.3" x2="83.0" y2="80.5" stroke="#8a8a8a" stroke-width="0.65"/><line x1="80.9" y1="89.6" x2="77.9" y2="89.9" stroke="#8a8a8a" stroke-width="0.65"/><line x1="80.9" y1="89.6" x2="79.4" y2="92.3" stroke="#8a8a8a" stroke-width="0.65"/><line x1="84.4" y1="92.6" x2="82.6" y2="95.2" stroke="#8a8a8a" stroke-width="0.65"/><line x1="84.4" y1="92.6" x2="85.9" y2="95.4" stroke="#8a8a8a" stroke-width="0.65"/><line x1="102.2" y1="107.3" x2="102.0" y2="111.7" stroke="#808080" stroke-width="1.05"/><line x1="102.0" y1="111.7" x2="98.6" y2="114.2" stroke="#808080" stroke-width="1.05"/><line x1="102.0" y1="111.7" x2="106.0" y2="115.0" stroke="#808080" stroke-width="1.05"/><line x1="110.8" y1="112.8" x2="112.3" y2="116.2" stroke="#8a8a8a" stroke-width="0.65"/><line x1="110.8" y1="112.8" x2="109.3" y2="109.4" stroke="#8a8a8a" stroke-width="0.65"/><line x1="110.8" y1="112.8" x2="114.3" y2="110.3" stroke="#808080" stroke-width="1.05"/><line x1="114.3" y1="110.3" x2="115.8" y2="113.7" stroke="#8a8a8a" stroke-width="0.65"/><line x1="114.3" y1="110.3" x2="112.8" y2="106.9" stroke="#8a8a8a" stroke-width="0.65"/><line x1="114.3" y1="110.3" x2="118.5" y2="109.4" stroke="#808080" stroke-width="1.05"/><line x1="118.5" y1="109.4" x2="120.0" y2="112.8" stroke="#8a8a8a" stroke-width="0.65"/><line x1="118.5" y1="109.4" x2="117.0" y2="106.0" stroke="#8a8a8a" stroke-width="0.65"/><line x1="118.5" y1="109.4" x2="122.0" y2="106.9" stroke="#808080" stroke-width="1.05"/><line x1="122.0" y1="106.9" x2="123.5" y2="110.2" stroke="#8a8a8a" stroke-width="0.65"/><line x1="122.0" y1="106.9" x2="120.4" y2="103.5" stroke="#8a8a8a" stroke-width="0.65"/><line x1="122.0" y1="106.9" x2="126.2" y2="106.0" stroke="#808080" stroke-width="1.05"/><line x1="126.2" y1="106.0" x2="127.7" y2="109.3" stroke="#8a8a8a" stroke-width="0.65"/><line x1="126.2" y1="106.0" x2="124.7" y2="102.6" stroke="#8a8a8a" stroke-width="0.65"/><line x1="126.2" y1="106.0" x2="129.6" y2="103.4" stroke="#808080" stroke-width="1.05"/><line x1="129.6" y1="103.4" x2="131.1" y2="106.8" stroke="#8a8a8a" stroke-width="0.65"/><line x1="129.6" y1="103.4" x2="128.1" y2="100.1" stroke="#8a8a8a" stroke-width="0.65"/><line x1="129.6" y1="103.4" x2="133.8" y2="102.5" stroke="#808080" stroke-width="1.05"/><line x1="133.8" y1="102.5" x2="135.4" y2="105.9" stroke="#8a8a8a" stroke-width="0.65"/><line x1="133.8" y1="102.5" x2="132.3" y2="99.2" stroke="#8a8a8a" stroke-width="0.65"/><line x1="133.8" y1="102.5" x2="137.3" y2="100.0" stroke="#808080" stroke-width="1.05"/><line x1="137.3" y1="100.0" x2="138.8" y2="103.4" stroke="#8a8a8a" stroke-width="0.65"/><line x1="137.3" y1="100.0" x2="135.8" y2="96.6" stroke="#8a8a8a" stroke-width="0.65"/><line x1="137.3" y1="100.0" x2="141.5" y2="99.1" stroke="#808080" stroke-width="1.05"/><line x1="141.5" y1="99.1" x2="143.0" y2="102.5" stroke="#8a8a8a" stroke-width="0.65"/><line x1="141.5" y1="99.1" x2="140.0" y2="95.7" stroke="#8a8a8a" stroke-width="0.65"/><line x1="141.5" y1="99.1" x2="145.0" y2="96.6" stroke="#808080" stroke-width="1.05"/><line x1="145.0" y1="96.6" x2="146.5" y2="100.0" stroke="#8a8a8a" stroke-width="0.65"/><line x1="145.0" y1="96.6" x2="143.5" y2="93.2" stroke="#8a8a8a" stroke-width="0.65"/><line x1="106.0" y1="115.0" x2="110.8" y2="112.8" stroke="#808080" stroke-width="1.05"/><line x1="148.1" y1="100.9" x2="144.3" y2="100.5" stroke="#8a8a8a" stroke-width="0.65"/><line x1="148.1" y1="100.9" x2="151.9" y2="101.3" stroke="#8a8a8a" stroke-width="0.65"/><line x1="148.1" y1="100.9" x2="149.4" y2="105.8" stroke="#808080" stroke-width="1.05"/><line x1="149.4" y1="105.8" x2="145.6" y2="105.3" stroke="#8a8a8a" stroke-width="0.65"/><line x1="149.4" y1="105.8" x2="153.1" y2="106.2" stroke="#8a8a8a" stroke-width="0.65"/><line x1="149.4" y1="105.8" x2="147.1" y2="110.2" stroke="#808080" stroke-width="1.05"/><line x1="147.1" y1="110.2" x2="143.3" y2="109.8" stroke="#8a8a8a" stroke-width="0.65"/><line x1="147.1" y1="110.2" x2="150.8" y2="110.6" stroke="#8a8a8a" stroke-width="0.65"/><line x1="147.1" y1="110.2" x2="148.3" y2="115.1" stroke="#808080" stroke-width="1.05"/><line x1="148.3" y1="115.1" x2="144.5" y2="114.6" stroke="#8a8a8a" stroke-width="0.65"/><line x1="148.3" y1="115.1" x2="152.1" y2="115.5" stroke="#8a8a8a" stroke-width="0.65"/><line x1="148.3" y1="115.1" x2="146.0" y2="119.5" stroke="#808080" stroke-width="1.05"/><line x1="146.0" y1="119.5" x2="142.2" y2="119.1" stroke="#8a8a8a" stroke-width="0.65"/><line x1="146.0" y1="119.5" x2="149.8" y2="119.9" stroke="#8a8a8a" stroke-width="0.65"/><line x1="146.0" y1="119.5" x2="147.3" y2="124.4" stroke="#808080" stroke-width="1.05"/><line x1="147.3" y1="124.4" x2="143.5" y2="123.9" stroke="#8a8a8a" stroke-width="0.65"/><line x1="147.3" y1="124.4" x2="151.0" y2="124.8" stroke="#8a8a8a" stroke-width="0.65"/><line x1="147.3" y1="124.4" x2="145.0" y2="128.8" stroke="#808080" stroke-width="1.05"/><line x1="145.0" y1="128.8" x2="141.2" y2="128.4" stroke="#8a8a8a" stroke-width="0.65"/><line x1="145.0" y1="128.8" x2="148.7" y2="129.2" stroke="#8a8a8a" stroke-width="0.65"/><line x1="145.0" y1="128.8" x2="146.2" y2="133.7" stroke="#808080" stroke-width="1.05"/><line x1="146.2" y1="133.7" x2="142.4" y2="133.2" stroke="#8a8a8a" stroke-width="0.65"/><line x1="146.2" y1="133.7" x2="150.0" y2="134.1" stroke="#8a8a8a" stroke-width="0.65"/><line x1="146.2" y1="133.7" x2="143.9" y2="138.1" stroke="#808080" stroke-width="1.05"/><line x1="143.9" y1="138.1" x2="140.1" y2="137.7" stroke="#8a8a8a" stroke-width="0.65"/><line x1="143.9" y1="138.1" x2="147.7" y2="138.5" stroke="#8a8a8a" stroke-width="0.65"/><line x1="145.0" y1="96.6" x2="148.1" y2="100.9" stroke="#808080" stroke-width="1.05"/><line x1="47.0" y1="142.4" x2="48.2" y2="145.6" stroke="#8a8a8a" stroke-width="0.65"/><line x1="143.9" y1="138.1" x2="143.6" y2="141.5" stroke="#8a8a8a" stroke-width="0.65"/><line x1="33.4" y1="103.3" x2="30.8" y2="100.9" stroke="#8a8a8a" stroke-width="0.65"/><line x1="148.1" y1="100.9" x2="151.1" y2="98.7" stroke="#8a8a8a" stroke-width="0.65"/><circle cx="33.0" cy="107.0" r="1.05" fill="#fcfcfc" stroke="#707070" stroke-width="0.45"/><circle cx="33.8" cy="99.7" r="1.05" fill="#fcfcfc" stroke="#707070" stroke-width="0.45"/><circle cx="33.4" cy="103.3" r="1.1" fill="#909090" stroke="#707070" stroke-width="0.45"/><circle cx="37.7" cy="106.6" r="1.05" fill="#fcfcfc" stroke="#707070" stroke-width="0.45"/><circle cx="38.5" cy="99.3" r="1.05" fill="#fcfcfc" stroke="#707070" stroke-width="0.45"/><circle cx="38.1" cy="103.0" r="1.1" fill="#909090" stroke="#707070" stroke-width="0.45"/><circle cx="42.4" cy="108.1" r="1.05" fill="#fcfcfc" stroke="#707070" stroke-width="0.45"/><circle cx="43.2" cy="100.7" r="1.05" fill="#fcfcfc" stroke="#707070" stroke-width="0.45"/><circle cx="42.8" cy="104.4" r="1.1" fill="#909090" stroke="#707070" stroke-width="0.45"/><circle cx="47.1" cy="107.7" r="1.05" fill="#fcfcfc" stroke="#707070" stroke-width="0.45"/><circle cx="47.9" cy="100.3" r="1.05" fill="#fcfcfc" stroke="#707070" stroke-width="0.45"/><circle cx="47.5" cy="104.0" r="1.1" fill="#909090" stroke="#707070" stroke-width="0.45"/><circle cx="51.8" cy="109.1" r="1.05" fill="#fcfcfc" stroke="#707070" stroke-width="0.45"/><circle cx="52.6" cy="101.7" r="1.05" fill="#fcfcfc" stroke="#707070" stroke-width="0.45"/><circle cx="52.2" cy="105.4" r="1.1" fill="#909090" stroke="#707070" stroke-width="0.45"/><circle cx="56.5" cy="108.7" r="1.05" fill="#fcfcfc" stroke="#707070" stroke-width="0.45"/><circle cx="57.3" cy="101.3" r="1.05" fill="#fcfcfc" stroke="#707070" stroke-width="0.45"/><circle cx="56.9" cy="105.0" r="1.1" fill="#909090" stroke="#707070" stroke-width="0.45"/><circle cx="61.2" cy="110.1" r="1.05" fill="#fcfcfc" stroke="#707070" stroke-width="0.45"/><circle cx="62.0" cy="102.7" r="1.05" fill="#fcfcfc" stroke="#707070" stroke-width="0.45"/><circle cx="61.6" cy="106.4" r="1.1" fill="#909090" stroke="#707070" stroke-width="0.45"/><circle cx="65.9" cy="109.7" r="1.05" fill="#fcfcfc" stroke="#707070" stroke-width="0.45"/><circle cx="66.7" cy="102.4" r="1.05" fill="#fcfcfc" stroke="#707070" stroke-width="0.45"/><circle cx="66.3" cy="106.0" r="1.1" fill="#909090" stroke="#707070" stroke-width="0.45"/><circle cx="70.6" cy="111.1" r="1.05" fill="#fcfcfc" stroke="#707070" stroke-width="0.45"/><circle cx="71.4" cy="103.8" r="1.05" fill="#fcfcfc" stroke="#707070" stroke-width="0.45"/><circle cx="71.0" cy="107.4" r="1.1" fill="#909090" stroke="#707070" stroke-width="0.45"/><circle cx="26.7" cy="109.1" r="1.05" fill="#fcfcfc" stroke="#707070" stroke-width="0.45"/><circle cx="33.3" cy="105.9" r="1.05" fill="#fcfcfc" stroke="#707070" stroke-width="0.45"/><circle cx="30.0" cy="107.5" r="1.1" fill="#909090" stroke="#707070" stroke-width="0.45"/><circle cx="29.6" cy="113.1" r="1.05" fill="#fcfcfc" stroke="#707070" stroke-width="0.45"/><circle cx="36.3" cy="109.8" r="1.05" fill="#fcfcfc" stroke="#707070" stroke-width="0.45"/><circle cx="32.9" cy="111.5" r="1.1" fill="#909090" stroke="#707070" stroke-width="0.45"/><circle cx="30.9" cy="117.8" r="1.05" fill="#fcfcfc" stroke="#707070" stroke-width="0.45"/><circle cx="37.6" cy="114.6" r="1.05" fill="#fcfcfc" stroke="#707070" stroke-width="0.45"/><circle cx="34.2" cy="116.2" r="1.1" fill="#909090" stroke="#707070" stroke-width="0.45"/><circle cx="33.9" cy="121.8" r="1.05" fill="#fcfcfc" stroke="#707070" stroke-width="0.45"/><circle cx="40.5" cy="118.6" r="1.05" fill="#fcfcfc" stroke="#707070" stroke-width="0.45"/><circle cx="37.2" cy="120.2" r="1.1" fill="#909090" stroke="#707070" stroke-width="0.45"/><circle cx="35.2" cy="126.6" r="1.05" fill="#fcfcfc" stroke="#707070" stroke-width="0.45"/><circle cx="41.8" cy="123.3" r="1.05" fill="#fcfcfc" stroke="#707070" stroke-width="0.45"/><circle cx="38.5" cy="124.9" r="1.1" fill="#909090" stroke="#707070" stroke-width="0.45"/><circle cx="38.1" cy="130.5" r="1.05" fill="#fcfcfc" stroke="#707070" stroke-width="0.45"/><circle cx="44.8" cy="127.3" r="1.05" fill="#fcfcfc" stroke="#707070" stroke-width="0.45"/><circle cx="41.4" cy="128.9" r="1.1" fill="#909090" stroke="#707070" stroke-width="0.45"/><circle cx="39.4" cy="135.3" r="1.05" fill="#fcfcfc" stroke="#707070" stroke-width="0.45"/><circle cx="46.1" cy="132.1" r="1.05" fill="#fcfcfc" stroke="#707070" stroke-width="0.45"/><circle cx="42.7" cy="133.7" r="1.1" fill="#909090" stroke="#707070" stroke-width="0.45"/><circle cx="42.4" cy="139.3" r="1.05" fill="#fcfcfc" stroke="#707070" stroke-width="0.45"/><circle cx="49.0" cy="136.0" r="1.05" fill="#fcfcfc" stroke="#707070" stroke-width="0.45"/><circle cx="45.7" cy="137.6" r="1.1" fill="#909090" stroke="#707070" stroke-width="0.45"/><circle cx="43.7" cy="144.0" r="1.05" fill="#fcfcfc" stroke="#707070" stroke-width="0.45"/><circle cx="50.3" cy="140.8" r="1.05" fill="#fcfcfc" stroke="#707070" stroke-width="0.45"/><circle cx="47.0" cy="142.4" r="1.1" fill="#909090" stroke="#707070" stroke-width="0.45"/><circle cx="78.2" cy="107.9" r="1.05" fill="#fcfcfc" stroke="#707070" stroke-width="0.45"/><circle cx="79.3" cy="100.6" r="1.05" fill="#fcfcfc" stroke="#707070" stroke-width="0.45"/><circle cx="78.7" cy="104.2" r="1.1" fill="#909090" stroke="#707070" stroke-width="0.45"/><circle cx="83.5" cy="107.8" r="1.05" fill="#fcfcfc" stroke="#707070" stroke-width="0.45"/><circle cx="84.6" cy="100.5" r="1.05" fill="#fcfcfc" stroke="#707070" stroke-width="0.45"/><circle cx="84.0" cy="104.2" r="1.1" fill="#909090" stroke="#707070" stroke-width="0.45"/><circle cx="88.5" cy="109.5" r="1.05" fill="#fcfcfc" stroke="#707070" stroke-width="0.45"/><circle cx="89.6" cy="102.2" r="1.05" fill="#fcfcfc" stroke="#707070" stroke-width="0.45"/><circle cx="89.1" cy="105.8" r="1.1" fill="#909090" stroke="#707070" stroke-width="0.45"/><circle cx="93.8" cy="109.4" r="1.05" fill="#fcfcfc" stroke="#707070" stroke-width="0.45"/><circle cx="95.0" cy="102.1" r="1.05" fill="#fcfcfc" stroke="#707070" stroke-width="0.45"/><circle cx="94.4" cy="105.8" r="1.1" fill="#909090" stroke="#707070" stroke-width="0.45"/><circle cx="98.9" cy="111.1" r="1.05" fill="#fcfcfc" stroke="#707070" stroke-width="0.45"/><circle cx="100.0" cy="103.8" r="1.05" fill="#fcfcfc" stroke="#707070" stroke-width="0.45"/><circle cx="99.4" cy="107.4" r="1.1" fill="#909090" stroke="#707070" stroke-width="0.45"/><circle cx="102.2" cy="107.3" r="1.1" fill="#909090" stroke="#707070" stroke-width="0.45"/><circle cx="106.6" cy="100.6" r="1.05" fill="#fcfcfc" stroke="#707070" stroke-width="0.45"/><circle cx="102.4" cy="96.7" r="1.05" fill="#fcfcfc" stroke="#707070" stroke-width="0.45"/><circle cx="98.8" cy="101.5" r="1.05" fill="#fcfcfc" stroke="#707070" stroke-width="0.45"/><circle cx="100.6" cy="99.1" r="1.1" fill="#909090" stroke="#707070" stroke-width="0.45"/><circle cx="97.3" cy="94.4" r="1.05" fill="#fcfcfc" stroke="#707070" stroke-width="0.45"/><circle cx="93.7" cy="99.2" r="1.05" fill="#fcfcfc" stroke="#707070" stroke-width="0.45"/><circle cx="95.5" cy="96.8" r="1.1" fill="#909090" stroke="#707070" stroke-width="0.45"/><circle cx="93.8" cy="90.1" r="1.05" fill="#fcfcfc" stroke="#707070" stroke-width="0.45"/><circle cx="90.2" cy="94.9" r="1.05" fill="#fcfcfc" stroke="#707070" stroke-width="0.45"/><circle cx="92.0" cy="92.5" r="1.1" fill="#909090" stroke="#707070" stroke-width="0.45"/><circle cx="90.8" cy="84.7" r="1.05" fill="#fcfcfc" stroke="#707070" stroke-width="0.45"/><circle cx="88.7" cy="83.3" r="1.05" fill="#fcfcfc" stroke="#707070" stroke-width="0.45"/><circle cx="85.8" cy="80.4" r="1.05" fill="#fcfcfc" stroke="#707070" stroke-width="0.45"/><circle cx="83.0" cy="80.5" r="1.05" fill="#fcfcfc" stroke="#707070" stroke-width="0.45"/><circle cx="77.9" cy="89.9" r="1.05" fill="#fcfcfc" stroke="#707070" stroke-width="0.45"/><circle cx="79.4" cy="92.3" r="1.05" fill="#fcfcfc" stroke="#707070" stroke-width="0.45"/><circle cx="82.6" cy="95.2" r="1.05" fill="#fcfcfc" stroke="#707070" stroke-width="0.45"/><circle cx="85.9" cy="95.4" r="1.05" fill="#fcfcfc" stroke="#707070" stroke-width="0.45"/><circle cx="88.2" cy="86.3" r="1.1" fill="#909090" stroke="#707070" stroke-width="0.45"/><circle cx="84.6" cy="83.3" r="1.1" fill="#909090" stroke="#707070" stroke-width="0.45"/><circle cx="80.9" cy="89.6" r="1.1" fill="#909090" stroke="#707070" stroke-width="0.45"/><circle cx="84.4" cy="92.6" r="1.1" fill="#909090" stroke="#707070" stroke-width="0.45"/><circle cx="102.0" cy="111.7" r="1.1" fill="#909090" stroke="#707070" stroke-width="0.45"/><circle cx="105.6" cy="118.6" r="1.05" fill="#fcfcfc" stroke="#707070" stroke-width="0.45"/><circle cx="112.3" cy="116.2" r="1.05" fill="#fcfcfc" stroke="#707070" stroke-width="0.45"/><circle cx="109.3" cy="109.4" r="1.05" fill="#fcfcfc" stroke="#707070" stroke-width="0.45"/><circle cx="110.8" cy="112.8" r="1.1" fill="#909090" stroke="#707070" stroke-width="0.45"/><circle cx="115.8" cy="113.7" r="1.05" fill="#fcfcfc" stroke="#707070" stroke-width="0.45"/><circle cx="112.8" cy="106.9" r="1.05" fill="#fcfcfc" stroke="#707070" stroke-width="0.45"/><circle cx="114.3" cy="110.3" r="1.1" fill="#909090" stroke="#707070" stroke-width="0.45"/><circle cx="120.0" cy="112.8" r="1.05" fill="#fcfcfc" stroke="#707070" stroke-width="0.45"/><circle cx="117.0" cy="106.0" r="1.05" fill="#fcfcfc" stroke="#707070" stroke-width="0.45"/><circle cx="118.5" cy="109.4" r="1.1" fill="#909090" stroke="#707070" stroke-width="0.45"/><circle cx="123.5" cy="110.2" r="1.05" fill="#fcfcfc" stroke="#707070" stroke-width="0.45"/><circle cx="120.4" cy="103.5" r="1.05" fill="#fcfcfc" stroke="#707070" stroke-width="0.45"/><circle cx="122.0" cy="106.9" r="1.1" fill="#909090" stroke="#707070" stroke-width="0.45"/><circle cx="127.7" cy="109.3" r="1.05" fill="#fcfcfc" stroke="#707070" stroke-width="0.45"/><circle cx="124.7" cy="102.6" r="1.05" fill="#fcfcfc" stroke="#707070" stroke-width="0.45"/><circle cx="126.2" cy="106.0" r="1.1" fill="#909090" stroke="#707070" stroke-width="0.45"/><circle cx="131.1" cy="106.8" r="1.05" fill="#fcfcfc" stroke="#707070" stroke-width="0.45"/><circle cx="128.1" cy="100.1" r="1.05" fill="#fcfcfc" stroke="#707070" stroke-width="0.45"/><circle cx="129.6" cy="103.4" r="1.1" fill="#909090" stroke="#707070" stroke-width="0.45"/><circle cx="135.4" cy="105.9" r="1.05" fill="#fcfcfc" stroke="#707070" stroke-width="0.45"/><circle cx="132.3" cy="99.2" r="1.05" fill="#fcfcfc" stroke="#707070" stroke-width="0.45"/><circle cx="133.8" cy="102.5" r="1.1" fill="#909090" stroke="#707070" stroke-width="0.45"/><circle cx="138.8" cy="103.4" r="1.05" fill="#fcfcfc" stroke="#707070" stroke-width="0.45"/><circle cx="135.8" cy="96.6" r="1.05" fill="#fcfcfc" stroke="#707070" stroke-width="0.45"/><circle cx="137.3" cy="100.0" r="1.1" fill="#909090" stroke="#707070" stroke-width="0.45"/><circle cx="143.0" cy="102.5" r="1.05" fill="#fcfcfc" stroke="#707070" stroke-width="0.45"/><circle cx="140.0" cy="95.7" r="1.05" fill="#fcfcfc" stroke="#707070" stroke-width="0.45"/><circle cx="141.5" cy="99.1" r="1.1" fill="#909090" stroke="#707070" stroke-width="0.45"/><circle cx="146.5" cy="100.0" r="1.05" fill="#fcfcfc" stroke="#707070" stroke-width="0.45"/><circle cx="143.5" cy="93.2" r="1.05" fill="#fcfcfc" stroke="#707070" stroke-width="0.45"/><circle cx="145.0" cy="96.6" r="1.1" fill="#909090" stroke="#707070" stroke-width="0.45"/><circle cx="144.3" cy="100.5" r="1.05" fill="#fcfcfc" stroke="#707070" stroke-width="0.45"/><circle cx="151.9" cy="101.3" r="1.05" fill="#fcfcfc" stroke="#707070" stroke-width="0.45"/><circle cx="148.1" cy="100.9" r="1.1" fill="#909090" stroke="#707070" stroke-width="0.45"/><circle cx="145.6" cy="105.3" r="1.05" fill="#fcfcfc" stroke="#707070" stroke-width="0.45"/><circle cx="153.1" cy="106.2" r="1.05" fill="#fcfcfc" stroke="#707070" stroke-width="0.45"/><circle cx="149.4" cy="105.8" r="1.1" fill="#909090" stroke="#707070" stroke-width="0.45"/><circle cx="143.3" cy="109.8" r="1.05" fill="#fcfcfc" stroke="#707070" stroke-width="0.45"/><circle cx="150.8" cy="110.6" r="1.05" fill="#fcfcfc" stroke="#707070" stroke-width="0.45"/><circle cx="147.1" cy="110.2" r="1.1" fill="#909090" stroke="#707070" stroke-width="0.45"/><circle cx="144.5" cy="114.6" r="1.05" fill="#fcfcfc" stroke="#707070" stroke-width="0.45"/><circle cx="152.1" cy="115.5" r="1.05" fill="#fcfcfc" stroke="#707070" stroke-width="0.45"/><circle cx="148.3" cy="115.1" r="1.1" fill="#909090" stroke="#707070" stroke-width="0.45"/><circle cx="142.2" cy="119.1" r="1.05" fill="#fcfcfc" stroke="#707070" stroke-width="0.45"/><circle cx="149.8" cy="119.9" r="1.05" fill="#fcfcfc" stroke="#707070" stroke-width="0.45"/><circle cx="146.0" cy="119.5" r="1.1" fill="#909090" stroke="#707070" stroke-width="0.45"/><circle cx="143.5" cy="123.9" r="1.05" fill="#fcfcfc" stroke="#707070" stroke-width="0.45"/><circle cx="151.0" cy="124.8" r="1.05" fill="#fcfcfc" stroke="#707070" stroke-width="0.45"/><circle cx="147.3" cy="124.4" r="1.1" fill="#909090" stroke="#707070" stroke-width="0.45"/><circle cx="141.2" cy="128.4" r="1.05" fill="#fcfcfc" stroke="#707070" stroke-width="0.45"/><circle cx="148.7" cy="129.2" r="1.05" fill="#fcfcfc" stroke="#707070" stroke-width="0.45"/><circle cx="145.0" cy="128.8" r="1.1" fill="#909090" stroke="#707070" stroke-width="0.45"/><circle cx="142.4" cy="133.2" r="1.05" fill="#fcfcfc" stroke="#707070" stroke-width="0.45"/><circle cx="150.0" cy="134.1" r="1.05" fill="#fcfcfc" stroke="#707070" stroke-width="0.45"/><circle cx="146.2" cy="133.7" r="1.1" fill="#909090" stroke="#707070" stroke-width="0.45"/><circle cx="140.1" cy="137.7" r="1.05" fill="#fcfcfc" stroke="#707070" stroke-width="0.45"/><circle cx="147.7" cy="138.5" r="1.05" fill="#fcfcfc" stroke="#707070" stroke-width="0.45"/><circle cx="143.9" cy="138.1" r="1.1" fill="#909090" stroke="#707070" stroke-width="0.45"/><circle cx="48.2" cy="145.6" r="1.05" fill="#fcfcfc" stroke="#707070" stroke-width="0.45"/><circle cx="143.6" cy="141.5" r="1.05" fill="#fcfcfc" stroke="#707070" stroke-width="0.45"/><circle cx="30.8" cy="100.9" r="1.05" fill="#fcfcfc" stroke="#707070" stroke-width="0.45"/><circle cx="151.1" cy="98.7" r="1.05" fill="#fcfcfc" stroke="#707070" stroke-width="0.45"/><circle cx="74.3" cy="104.2" r="1.3" fill="#d41a1a" stroke="#a01010" stroke-width="0.45"/><circle cx="73.5" cy="111.3" r="1.3" fill="#d41a1a" stroke="#a01010" stroke-width="0.45"/><circle cx="80.6" cy="85.1" r="1.3" fill="#d41a1a" stroke="#a01010" stroke-width="0.45"/><circle cx="98.6" cy="114.2" r="1.3" fill="#d41a1a" stroke="#a01010" stroke-width="0.45"/><circle cx="103.6" cy="102.4" r="1.3" fill="#7585e6" stroke="#5565c8" stroke-width="0.45"/><circle cx="88.5" cy="90.7" r="1.3" fill="#7585e6" stroke="#5565c8" stroke-width="0.45"/><circle cx="106.0" cy="115.0" r="1.3" fill="#7585e6" stroke="#5565c8" stroke-width="0.45"/></g><g><line x1="47.1" y1="364.4" x2="46.7" y2="368.0" stroke="#8a8a8a" stroke-width="0.65"/><line x1="47.1" y1="364.4" x2="47.5" y2="360.8" stroke="#8a8a8a" stroke-width="0.65"/><line x1="47.1" y1="364.4" x2="51.8" y2="364.0" stroke="#808080" stroke-width="1.05"/><line x1="51.8" y1="364.0" x2="51.4" y2="367.7" stroke="#8a8a8a" stroke-width="0.65"/><line x1="51.8" y1="364.0" x2="52.2" y2="360.4" stroke="#8a8a8a" stroke-width="0.65"/><line x1="51.8" y1="364.0" x2="56.3" y2="365.4" stroke="#808080" stroke-width="1.05"/><line x1="56.3" y1="365.4" x2="55.9" y2="369.0" stroke="#8a8a8a" stroke-width="0.65"/><line x1="56.3" y1="365.4" x2="56.7" y2="361.8" stroke="#8a8a8a" stroke-width="0.65"/><line x1="56.3" y1="365.4" x2="61.0" y2="365.1" stroke="#808080" stroke-width="1.05"/><line x1="61.0" y1="365.1" x2="60.6" y2="368.7" stroke="#8a8a8a" stroke-width="0.65"/><line x1="61.0" y1="365.1" x2="61.4" y2="361.4" stroke="#8a8a8a" stroke-width="0.65"/><line x1="61.0" y1="365.1" x2="65.5" y2="366.4" stroke="#808080" stroke-width="1.05"/><line x1="65.5" y1="366.4" x2="65.1" y2="370.0" stroke="#8a8a8a" stroke-width="0.65"/><line x1="65.5" y1="366.4" x2="65.9" y2="362.8" stroke="#8a8a8a" stroke-width="0.65"/><line x1="65.5" y1="366.4" x2="70.2" y2="366.1" stroke="#808080" stroke-width="1.05"/><line x1="70.2" y1="366.1" x2="69.8" y2="369.7" stroke="#8a8a8a" stroke-width="0.65"/><line x1="70.2" y1="366.1" x2="70.6" y2="362.5" stroke="#8a8a8a" stroke-width="0.65"/><line x1="70.2" y1="366.1" x2="74.8" y2="367.4" stroke="#808080" stroke-width="1.05"/><line x1="74.8" y1="367.4" x2="74.4" y2="371.0" stroke="#8a8a8a" stroke-width="0.65"/><line x1="74.8" y1="367.4" x2="75.1" y2="363.8" stroke="#8a8a8a" stroke-width="0.65"/><line x1="74.8" y1="367.4" x2="79.5" y2="367.1" stroke="#808080" stroke-width="1.05"/><line x1="79.5" y1="367.1" x2="79.1" y2="370.7" stroke="#8a8a8a" stroke-width="0.65"/><line x1="79.5" y1="367.1" x2="79.9" y2="363.5" stroke="#8a8a8a" stroke-width="0.65"/><line x1="79.5" y1="367.1" x2="84.0" y2="368.4" stroke="#808080" stroke-width="1.05"/><line x1="84.0" y1="368.4" x2="83.6" y2="372.0" stroke="#8a8a8a" stroke-width="0.65"/><line x1="84.0" y1="368.4" x2="84.4" y2="364.8" stroke="#8a8a8a" stroke-width="0.65"/><line x1="43.8" y1="368.5" x2="40.5" y2="370.1" stroke="#8a8a8a" stroke-width="0.65"/><line x1="43.8" y1="368.5" x2="47.1" y2="366.9" stroke="#8a8a8a" stroke-width="0.65"/><line x1="43.8" y1="368.5" x2="46.7" y2="372.4" stroke="#808080" stroke-width="1.05"/><line x1="46.7" y1="372.4" x2="43.4" y2="374.0" stroke="#8a8a8a" stroke-width="0.65"/><line x1="46.7" y1="372.4" x2="49.9" y2="370.8" stroke="#8a8a8a" stroke-width="0.65"/><line x1="46.7" y1="372.4" x2="48.0" y2="377.0" stroke="#808080" stroke-width="1.05"/><line x1="48.0" y1="377.0" x2="44.7" y2="378.6" stroke="#8a8a8a" stroke-width="0.65"/><line x1="48.0" y1="377.0" x2="51.2" y2="375.4" stroke="#8a8a8a" stroke-width="0.65"/><line x1="48.0" y1="377.0" x2="50.8" y2="380.9" stroke="#808080" stroke-width="1.05"/><line x1="50.8" y1="380.9" x2="47.6" y2="382.5" stroke="#8a8a8a" stroke-width="0.65"/><line x1="50.8" y1="380.9" x2="54.1" y2="379.3" stroke="#8a8a8a" stroke-width="0.65"/><line x1="50.8" y1="380.9" x2="52.1" y2="385.6" stroke="#808080" stroke-width="1.05"/><line x1="52.1" y1="385.6" x2="48.9" y2="387.2" stroke="#8a8a8a" stroke-width="0.65"/><line x1="52.1" y1="385.6" x2="55.4" y2="384.0" stroke="#8a8a8a" stroke-width="0.65"/><line x1="52.1" y1="385.6" x2="55.0" y2="389.5" stroke="#808080" stroke-width="1.05"/><line x1="55.0" y1="389.5" x2="51.7" y2="391.1" stroke="#8a8a8a" stroke-width="0.65"/><line x1="55.0" y1="389.5" x2="58.3" y2="387.9" stroke="#8a8a8a" stroke-width="0.65"/><line x1="55.0" y1="389.5" x2="56.3" y2="394.1" stroke="#808080" stroke-width="1.05"/><line x1="56.3" y1="394.1" x2="53.0" y2="395.7" stroke="#8a8a8a" stroke-width="0.65"/><line x1="56.3" y1="394.1" x2="59.6" y2="392.6" stroke="#8a8a8a" stroke-width="0.65"/><line x1="56.3" y1="394.1" x2="59.2" y2="398.0" stroke="#808080" stroke-width="1.05"/><line x1="59.2" y1="398.0" x2="55.9" y2="399.6" stroke="#8a8a8a" stroke-width="0.65"/><line x1="59.2" y1="398.0" x2="62.4" y2="396.4" stroke="#8a8a8a" stroke-width="0.65"/><line x1="59.2" y1="398.0" x2="60.5" y2="402.7" stroke="#808080" stroke-width="1.05"/><line x1="60.5" y1="402.7" x2="57.2" y2="404.3" stroke="#8a8a8a" stroke-width="0.65"/><line x1="60.5" y1="402.7" x2="63.7" y2="401.1" stroke="#8a8a8a" stroke-width="0.65"/><line x1="47.1" y1="364.4" x2="43.8" y2="368.5" stroke="#808080" stroke-width="1.05"/><line x1="84.0" y1="368.4" x2="87.3" y2="365.3" stroke="#808080" stroke-width="1.05"/><line x1="84.0" y1="368.4" x2="86.5" y2="372.2" stroke="#808080" stroke-width="1.05"/><line x1="91.6" y1="365.3" x2="91.1" y2="368.9" stroke="#8a8a8a" stroke-width="0.65"/><line x1="91.6" y1="365.3" x2="92.2" y2="361.7" stroke="#8a8a8a" stroke-width="0.65"/><line x1="91.6" y1="365.3" x2="96.8" y2="365.2" stroke="#808080" stroke-width="1.05"/><line x1="96.8" y1="365.2" x2="96.3" y2="368.8" stroke="#8a8a8a" stroke-width="0.65"/><line x1="96.8" y1="365.2" x2="97.4" y2="361.6" stroke="#8a8a8a" stroke-width="0.65"/><line x1="96.8" y1="365.2" x2="101.8" y2="366.9" stroke="#808080" stroke-width="1.05"/><line x1="101.8" y1="366.9" x2="101.2" y2="370.5" stroke="#8a8a8a" stroke-width="0.65"/><line x1="101.8" y1="366.9" x2="102.3" y2="363.3" stroke="#8a8a8a" stroke-width="0.65"/><line x1="101.8" y1="366.9" x2="107.0" y2="366.8" stroke="#808080" stroke-width="1.05"/><line x1="107.0" y1="366.8" x2="106.4" y2="370.4" stroke="#8a8a8a" stroke-width="0.65"/><line x1="107.0" y1="366.8" x2="107.5" y2="363.2" stroke="#8a8a8a" stroke-width="0.65"/><line x1="107.0" y1="366.8" x2="111.9" y2="368.4" stroke="#808080" stroke-width="1.05"/><line x1="111.9" y1="368.4" x2="111.4" y2="372.0" stroke="#8a8a8a" stroke-width="0.65"/><line x1="111.9" y1="368.4" x2="112.5" y2="364.9" stroke="#8a8a8a" stroke-width="0.65"/><line x1="87.3" y1="365.3" x2="91.6" y2="365.3" stroke="#808080" stroke-width="1.05"/><line x1="111.9" y1="368.4" x2="114.6" y2="368.3" stroke="#808080" stroke-width="1.05"/><line x1="114.6" y1="368.3" x2="116.0" y2="363.5" stroke="#808080" stroke-width="1.05"/><line x1="113.0" y1="360.3" x2="114.8" y2="357.9" stroke="#8a8a8a" stroke-width="0.65"/><line x1="113.0" y1="360.3" x2="111.3" y2="362.6" stroke="#8a8a8a" stroke-width="0.65"/><line x1="113.0" y1="360.3" x2="108.1" y2="358.0" stroke="#808080" stroke-width="1.05"/><line x1="108.1" y1="358.0" x2="109.9" y2="355.7" stroke="#8a8a8a" stroke-width="0.65"/><line x1="108.1" y1="358.0" x2="106.3" y2="360.3" stroke="#8a8a8a" stroke-width="0.65"/><line x1="108.1" y1="358.0" x2="104.6" y2="353.8" stroke="#808080" stroke-width="1.05"/><line x1="104.6" y1="353.8" x2="106.4" y2="351.5" stroke="#8a8a8a" stroke-width="0.65"/><line x1="104.6" y1="353.8" x2="102.8" y2="356.1" stroke="#8a8a8a" stroke-width="0.65"/><line x1="116.0" y1="363.5" x2="113.0" y2="360.3" stroke="#808080" stroke-width="1.05"/><line x1="104.6" y1="353.8" x2="101.2" y2="352.0" stroke="#808080" stroke-width="1.05"/><line x1="101.2" y1="352.0" x2="100.9" y2="347.7" stroke="#808080" stroke-width="1.05"/><line x1="100.9" y1="347.7" x2="97.4" y2="344.8" stroke="#808080" stroke-width="1.05"/><line x1="97.4" y1="344.8" x2="93.4" y2="346.5" stroke="#808080" stroke-width="1.05"/><line x1="93.4" y1="346.5" x2="93.7" y2="350.9" stroke="#808080" stroke-width="1.05"/><line x1="93.7" y1="350.9" x2="97.2" y2="353.9" stroke="#808080" stroke-width="1.05"/><line x1="97.2" y1="353.9" x2="101.2" y2="352.0" stroke="#808080" stroke-width="1.05"/><line x1="100.9" y1="347.7" x2="103.4" y2="346.1" stroke="#8a8a8a" stroke-width="0.65"/><line x1="100.9" y1="347.7" x2="101.4" y2="344.8" stroke="#8a8a8a" stroke-width="0.65"/><line x1="97.4" y1="344.8" x2="98.5" y2="341.9" stroke="#8a8a8a" stroke-width="0.65"/><line x1="97.4" y1="344.8" x2="95.8" y2="342.0" stroke="#8a8a8a" stroke-width="0.65"/><line x1="93.7" y1="350.9" x2="90.8" y2="351.2" stroke="#8a8a8a" stroke-width="0.65"/><line x1="93.7" y1="350.9" x2="92.3" y2="353.6" stroke="#8a8a8a" stroke-width="0.65"/><line x1="97.2" y1="353.9" x2="95.4" y2="356.4" stroke="#8a8a8a" stroke-width="0.65"/><line x1="97.2" y1="353.9" x2="98.6" y2="356.6" stroke="#8a8a8a" stroke-width="0.65"/><line x1="114.6" y1="368.3" x2="114.4" y2="372.6" stroke="#808080" stroke-width="1.05"/><line x1="114.4" y1="372.6" x2="111.1" y2="375.1" stroke="#808080" stroke-width="1.05"/><line x1="114.4" y1="372.6" x2="118.4" y2="375.8" stroke="#808080" stroke-width="1.05"/><line x1="123.0" y1="373.7" x2="124.5" y2="377.0" stroke="#8a8a8a" stroke-width="0.65"/><line x1="123.0" y1="373.7" x2="121.6" y2="370.4" stroke="#8a8a8a" stroke-width="0.65"/><line x1="123.0" y1="373.7" x2="126.5" y2="371.2" stroke="#808080" stroke-width="1.05"/><line x1="126.5" y1="371.2" x2="127.9" y2="374.5" stroke="#8a8a8a" stroke-width="0.65"/><line x1="126.5" y1="371.2" x2="125.0" y2="367.9" stroke="#8a8a8a" stroke-width="0.65"/><line x1="126.5" y1="371.2" x2="130.6" y2="370.3" stroke="#808080" stroke-width="1.05"/><line x1="130.6" y1="370.3" x2="132.1" y2="373.7" stroke="#8a8a8a" stroke-width="0.65"/><line x1="130.6" y1="370.3" x2="129.1" y2="367.0" stroke="#8a8a8a" stroke-width="0.65"/><line x1="130.6" y1="370.3" x2="134.0" y2="367.9" stroke="#808080" stroke-width="1.05"/><line x1="134.0" y1="367.9" x2="135.5" y2="371.2" stroke="#8a8a8a" stroke-width="0.65"/><line x1="134.0" y1="367.9" x2="132.5" y2="364.5" stroke="#8a8a8a" stroke-width="0.65"/><line x1="134.0" y1="367.9" x2="138.1" y2="367.0" stroke="#808080" stroke-width="1.05"/><line x1="138.1" y1="367.0" x2="139.6" y2="370.3" stroke="#8a8a8a" stroke-width="0.65"/><line x1="138.1" y1="367.0" x2="136.7" y2="363.7" stroke="#8a8a8a" stroke-width="0.65"/><line x1="138.1" y1="367.0" x2="141.5" y2="364.5" stroke="#808080" stroke-width="1.05"/><line x1="141.5" y1="364.5" x2="143.0" y2="367.8" stroke="#8a8a8a" stroke-width="0.65"/><line x1="141.5" y1="364.5" x2="140.1" y2="361.2" stroke="#8a8a8a" stroke-width="0.65"/><line x1="141.5" y1="364.5" x2="145.7" y2="363.6" stroke="#808080" stroke-width="1.05"/><line x1="145.7" y1="363.6" x2="147.2" y2="366.9" stroke="#8a8a8a" stroke-width="0.65"/><line x1="145.7" y1="363.6" x2="144.2" y2="360.3" stroke="#8a8a8a" stroke-width="0.65"/><line x1="145.7" y1="363.6" x2="149.1" y2="361.2" stroke="#808080" stroke-width="1.05"/><line x1="149.1" y1="361.2" x2="150.6" y2="364.5" stroke="#8a8a8a" stroke-width="0.65"/><line x1="149.1" y1="361.2" x2="147.6" y2="357.8" stroke="#8a8a8a" stroke-width="0.65"/><line x1="149.1" y1="361.2" x2="153.2" y2="360.3" stroke="#808080" stroke-width="1.05"/><line x1="153.2" y1="360.3" x2="154.7" y2="363.6" stroke="#8a8a8a" stroke-width="0.65"/><line x1="153.2" y1="360.3" x2="151.7" y2="357.0" stroke="#8a8a8a" stroke-width="0.65"/><line x1="153.2" y1="360.3" x2="156.6" y2="357.8" stroke="#808080" stroke-width="1.05"/><line x1="156.6" y1="357.8" x2="158.1" y2="361.1" stroke="#8a8a8a" stroke-width="0.65"/><line x1="156.6" y1="357.8" x2="155.2" y2="354.5" stroke="#8a8a8a" stroke-width="0.65"/><line x1="118.4" y1="375.8" x2="123.0" y2="373.7" stroke="#808080" stroke-width="1.05"/><line x1="159.7" y1="362.0" x2="156.0" y2="361.6" stroke="#8a8a8a" stroke-width="0.65"/><line x1="159.7" y1="362.0" x2="163.4" y2="362.4" stroke="#8a8a8a" stroke-width="0.65"/><line x1="159.7" y1="362.0" x2="160.9" y2="366.8" stroke="#808080" stroke-width="1.05"/><line x1="160.9" y1="366.8" x2="157.2" y2="366.4" stroke="#8a8a8a" stroke-width="0.65"/><line x1="160.9" y1="366.8" x2="164.6" y2="367.2" stroke="#8a8a8a" stroke-width="0.65"/><line x1="160.9" y1="366.8" x2="158.6" y2="371.1" stroke="#808080" stroke-width="1.05"/><line x1="158.6" y1="371.1" x2="154.9" y2="370.7" stroke="#8a8a8a" stroke-width="0.65"/><line x1="158.6" y1="371.1" x2="162.3" y2="371.6" stroke="#8a8a8a" stroke-width="0.65"/><line x1="158.6" y1="371.1" x2="159.9" y2="375.9" stroke="#808080" stroke-width="1.05"/><line x1="159.9" y1="375.9" x2="156.2" y2="375.5" stroke="#8a8a8a" stroke-width="0.65"/><line x1="159.9" y1="375.9" x2="163.6" y2="376.3" stroke="#8a8a8a" stroke-width="0.65"/><line x1="159.9" y1="375.9" x2="157.6" y2="380.2" stroke="#808080" stroke-width="1.05"/><line x1="157.6" y1="380.2" x2="153.9" y2="379.8" stroke="#8a8a8a" stroke-width="0.65"/><line x1="157.6" y1="380.2" x2="161.3" y2="380.7" stroke="#8a8a8a" stroke-width="0.65"/><line x1="157.6" y1="380.2" x2="158.8" y2="385.0" stroke="#808080" stroke-width="1.05"/><line x1="158.8" y1="385.0" x2="155.1" y2="384.6" stroke="#8a8a8a" stroke-width="0.65"/><line x1="158.8" y1="385.0" x2="162.5" y2="385.4" stroke="#8a8a8a" stroke-width="0.65"/><line x1="158.8" y1="385.0" x2="156.6" y2="389.4" stroke="#808080" stroke-width="1.05"/><line x1="156.6" y1="389.4" x2="152.9" y2="388.9" stroke="#8a8a8a" stroke-width="0.65"/><line x1="156.6" y1="389.4" x2="160.3" y2="389.8" stroke="#8a8a8a" stroke-width="0.65"/><line x1="156.6" y1="389.4" x2="157.8" y2="394.1" stroke="#808080" stroke-width="1.05"/><line x1="157.8" y1="394.1" x2="154.1" y2="393.7" stroke="#8a8a8a" stroke-width="0.65"/><line x1="157.8" y1="394.1" x2="161.5" y2="394.5" stroke="#8a8a8a" stroke-width="0.65"/><line x1="157.8" y1="394.1" x2="155.5" y2="398.5" stroke="#808080" stroke-width="1.05"/><line x1="155.5" y1="398.5" x2="151.8" y2="398.1" stroke="#8a8a8a" stroke-width="0.65"/><line x1="155.5" y1="398.5" x2="159.2" y2="398.9" stroke="#8a8a8a" stroke-width="0.65"/><line x1="156.6" y1="357.8" x2="159.7" y2="362.0" stroke="#808080" stroke-width="1.05"/><line x1="60.5" y1="402.7" x2="61.6" y2="405.8" stroke="#8a8a8a" stroke-width="0.65"/><line x1="155.5" y1="398.5" x2="155.2" y2="401.8" stroke="#8a8a8a" stroke-width="0.65"/><line x1="47.1" y1="364.4" x2="44.5" y2="362.1" stroke="#8a8a8a" stroke-width="0.65"/><line x1="159.7" y1="362.0" x2="162.6" y2="359.9" stroke="#8a8a8a" stroke-width="0.65"/><circle cx="46.7" cy="368.0" r="1.05" fill="#fcfcfc" stroke="#707070" stroke-width="0.45"/><circle cx="47.5" cy="360.8" r="1.05" fill="#fcfcfc" stroke="#707070" stroke-width="0.45"/><circle cx="47.1" cy="364.4" r="1.1" fill="#909090" stroke="#707070" stroke-width="0.45"/><circle cx="51.4" cy="367.7" r="1.05" fill="#fcfcfc" stroke="#707070" stroke-width="0.45"/><circle cx="52.2" cy="360.4" r="1.05" fill="#fcfcfc" stroke="#707070" stroke-width="0.45"/><circle cx="51.8" cy="364.0" r="1.1" fill="#909090" stroke="#707070" stroke-width="0.45"/><circle cx="55.9" cy="369.0" r="1.05" fill="#fcfcfc" stroke="#707070" stroke-width="0.45"/><circle cx="56.7" cy="361.8" r="1.05" fill="#fcfcfc" stroke="#707070" stroke-width="0.45"/><circle cx="56.3" cy="365.4" r="1.1" fill="#909090" stroke="#707070" stroke-width="0.45"/><circle cx="60.6" cy="368.7" r="1.05" fill="#fcfcfc" stroke="#707070" stroke-width="0.45"/><circle cx="61.4" cy="361.4" r="1.05" fill="#fcfcfc" stroke="#707070" stroke-width="0.45"/><circle cx="61.0" cy="365.1" r="1.1" fill="#909090" stroke="#707070" stroke-width="0.45"/><circle cx="65.1" cy="370.0" r="1.05" fill="#fcfcfc" stroke="#707070" stroke-width="0.45"/><circle cx="65.9" cy="362.8" r="1.05" fill="#fcfcfc" stroke="#707070" stroke-width="0.45"/><circle cx="65.5" cy="366.4" r="1.1" fill="#909090" stroke="#707070" stroke-width="0.45"/><circle cx="69.8" cy="369.7" r="1.05" fill="#fcfcfc" stroke="#707070" stroke-width="0.45"/><circle cx="70.6" cy="362.5" r="1.05" fill="#fcfcfc" stroke="#707070" stroke-width="0.45"/><circle cx="70.2" cy="366.1" r="1.1" fill="#909090" stroke="#707070" stroke-width="0.45"/><circle cx="74.4" cy="371.0" r="1.05" fill="#fcfcfc" stroke="#707070" stroke-width="0.45"/><circle cx="75.1" cy="363.8" r="1.05" fill="#fcfcfc" stroke="#707070" stroke-width="0.45"/><circle cx="74.8" cy="367.4" r="1.1" fill="#909090" stroke="#707070" stroke-width="0.45"/><circle cx="79.1" cy="370.7" r="1.05" fill="#fcfcfc" stroke="#707070" stroke-width="0.45"/><circle cx="79.9" cy="363.5" r="1.05" fill="#fcfcfc" stroke="#707070" stroke-width="0.45"/><circle cx="79.5" cy="367.1" r="1.1" fill="#909090" stroke="#707070" stroke-width="0.45"/><circle cx="83.6" cy="372.0" r="1.05" fill="#fcfcfc" stroke="#707070" stroke-width="0.45"/><circle cx="84.4" cy="364.8" r="1.05" fill="#fcfcfc" stroke="#707070" stroke-width="0.45"/><circle cx="84.0" cy="368.4" r="1.1" fill="#909090" stroke="#707070" stroke-width="0.45"/><circle cx="40.5" cy="370.1" r="1.05" fill="#fcfcfc" stroke="#707070" stroke-width="0.45"/><circle cx="47.1" cy="366.9" r="1.05" fill="#fcfcfc" stroke="#707070" stroke-width="0.45"/><circle cx="43.8" cy="368.5" r="1.1" fill="#909090" stroke="#707070" stroke-width="0.45"/><circle cx="43.4" cy="374.0" r="1.05" fill="#fcfcfc" stroke="#707070" stroke-width="0.45"/><circle cx="49.9" cy="370.8" r="1.05" fill="#fcfcfc" stroke="#707070" stroke-width="0.45"/><circle cx="46.7" cy="372.4" r="1.1" fill="#909090" stroke="#707070" stroke-width="0.45"/><circle cx="44.7" cy="378.6" r="1.05" fill="#fcfcfc" stroke="#707070" stroke-width="0.45"/><circle cx="51.2" cy="375.4" r="1.05" fill="#fcfcfc" stroke="#707070" stroke-width="0.45"/><circle cx="48.0" cy="377.0" r="1.1" fill="#909090" stroke="#707070" stroke-width="0.45"/><circle cx="47.6" cy="382.5" r="1.05" fill="#fcfcfc" stroke="#707070" stroke-width="0.45"/><circle cx="54.1" cy="379.3" r="1.05" fill="#fcfcfc" stroke="#707070" stroke-width="0.45"/><circle cx="50.8" cy="380.9" r="1.1" fill="#909090" stroke="#707070" stroke-width="0.45"/><circle cx="48.9" cy="387.2" r="1.05" fill="#fcfcfc" stroke="#707070" stroke-width="0.45"/><circle cx="55.4" cy="384.0" r="1.05" fill="#fcfcfc" stroke="#707070" stroke-width="0.45"/><circle cx="52.1" cy="385.6" r="1.1" fill="#909090" stroke="#707070" stroke-width="0.45"/><circle cx="51.7" cy="391.1" r="1.05" fill="#fcfcfc" stroke="#707070" stroke-width="0.45"/><circle cx="58.3" cy="387.9" r="1.05" fill="#fcfcfc" stroke="#707070" stroke-width="0.45"/><circle cx="55.0" cy="389.5" r="1.1" fill="#909090" stroke="#707070" stroke-width="0.45"/><circle cx="53.0" cy="395.7" r="1.05" fill="#fcfcfc" stroke="#707070" stroke-width="0.45"/><circle cx="59.6" cy="392.6" r="1.05" fill="#fcfcfc" stroke="#707070" stroke-width="0.45"/><circle cx="56.3" cy="394.1" r="1.1" fill="#909090" stroke="#707070" stroke-width="0.45"/><circle cx="55.9" cy="399.6" r="1.05" fill="#fcfcfc" stroke="#707070" stroke-width="0.45"/><circle cx="62.4" cy="396.4" r="1.05" fill="#fcfcfc" stroke="#707070" stroke-width="0.45"/><circle cx="59.2" cy="398.0" r="1.1" fill="#909090" stroke="#707070" stroke-width="0.45"/><circle cx="57.2" cy="404.3" r="1.05" fill="#fcfcfc" stroke="#707070" stroke-width="0.45"/><circle cx="63.7" cy="401.1" r="1.05" fill="#fcfcfc" stroke="#707070" stroke-width="0.45"/><circle cx="60.5" cy="402.7" r="1.1" fill="#909090" stroke="#707070" stroke-width="0.45"/><circle cx="91.1" cy="368.9" r="1.05" fill="#fcfcfc" stroke="#707070" stroke-width="0.45"/><circle cx="92.2" cy="361.7" r="1.05" fill="#fcfcfc" stroke="#707070" stroke-width="0.45"/><circle cx="91.6" cy="365.3" r="1.1" fill="#909090" stroke="#707070" stroke-width="0.45"/><circle cx="96.3" cy="368.8" r="1.05" fill="#fcfcfc" stroke="#707070" stroke-width="0.45"/><circle cx="97.4" cy="361.6" r="1.05" fill="#fcfcfc" stroke="#707070" stroke-width="0.45"/><circle cx="96.8" cy="365.2" r="1.1" fill="#909090" stroke="#707070" stroke-width="0.45"/><circle cx="101.2" cy="370.5" r="1.05" fill="#fcfcfc" stroke="#707070" stroke-width="0.45"/><circle cx="102.3" cy="363.3" r="1.05" fill="#fcfcfc" stroke="#707070" stroke-width="0.45"/><circle cx="101.8" cy="366.9" r="1.1" fill="#909090" stroke="#707070" stroke-width="0.45"/><circle cx="106.4" cy="370.4" r="1.05" fill="#fcfcfc" stroke="#707070" stroke-width="0.45"/><circle cx="107.5" cy="363.2" r="1.05" fill="#fcfcfc" stroke="#707070" stroke-width="0.45"/><circle cx="107.0" cy="366.8" r="1.1" fill="#909090" stroke="#707070" stroke-width="0.45"/><circle cx="111.4" cy="372.0" r="1.05" fill="#fcfcfc" stroke="#707070" stroke-width="0.45"/><circle cx="112.5" cy="364.9" r="1.05" fill="#fcfcfc" stroke="#707070" stroke-width="0.45"/><circle cx="111.9" cy="368.4" r="1.1" fill="#909090" stroke="#707070" stroke-width="0.45"/><circle cx="114.6" cy="368.3" r="1.1" fill="#909090" stroke="#707070" stroke-width="0.45"/><circle cx="118.9" cy="361.7" r="1.05" fill="#fcfcfc" stroke="#707070" stroke-width="0.45"/><circle cx="114.8" cy="357.9" r="1.05" fill="#fcfcfc" stroke="#707070" stroke-width="0.45"/><circle cx="111.3" cy="362.6" r="1.05" fill="#fcfcfc" stroke="#707070" stroke-width="0.45"/><circle cx="113.0" cy="360.3" r="1.1" fill="#909090" stroke="#707070" stroke-width="0.45"/><circle cx="109.9" cy="355.7" r="1.05" fill="#fcfcfc" stroke="#707070" stroke-width="0.45"/><circle cx="106.3" cy="360.3" r="1.05" fill="#fcfcfc" stroke="#707070" stroke-width="0.45"/><circle cx="108.1" cy="358.0" r="1.1" fill="#909090" stroke="#707070" stroke-width="0.45"/><circle cx="106.4" cy="351.5" r="1.05" fill="#fcfcfc" stroke="#707070" stroke-width="0.45"/><circle cx="102.8" cy="356.1" r="1.05" fill="#fcfcfc" stroke="#707070" stroke-width="0.45"/><circle cx="104.6" cy="353.8" r="1.1" fill="#909090" stroke="#707070" stroke-width="0.45"/><circle cx="103.4" cy="346.1" r="1.05" fill="#fcfcfc" stroke="#707070" stroke-width="0.45"/><circle cx="101.4" cy="344.8" r="1.05" fill="#fcfcfc" stroke="#707070" stroke-width="0.45"/><circle cx="98.5" cy="341.9" r="1.05" fill="#fcfcfc" stroke="#707070" stroke-width="0.45"/><circle cx="95.8" cy="342.0" r="1.05" fill="#fcfcfc" stroke="#707070" stroke-width="0.45"/><circle cx="90.8" cy="351.2" r="1.05" fill="#fcfcfc" stroke="#707070" stroke-width="0.45"/><circle cx="92.3" cy="353.6" r="1.05" fill="#fcfcfc" stroke="#707070" stroke-width="0.45"/><circle cx="95.4" cy="356.4" r="1.05" fill="#fcfcfc" stroke="#707070" stroke-width="0.45"/><circle cx="98.6" cy="356.6" r="1.05" fill="#fcfcfc" stroke="#707070" stroke-width="0.45"/><circle cx="100.9" cy="347.7" r="1.1" fill="#909090" stroke="#707070" stroke-width="0.45"/><circle cx="97.4" cy="344.8" r="1.1" fill="#909090" stroke="#707070" stroke-width="0.45"/><circle cx="93.7" cy="350.9" r="1.1" fill="#909090" stroke="#707070" stroke-width="0.45"/><circle cx="97.2" cy="353.9" r="1.1" fill="#909090" stroke="#707070" stroke-width="0.45"/><circle cx="114.4" cy="372.6" r="1.1" fill="#909090" stroke="#707070" stroke-width="0.45"/><circle cx="118.0" cy="379.4" r="1.05" fill="#fcfcfc" stroke="#707070" stroke-width="0.45"/><circle cx="124.5" cy="377.0" r="1.05" fill="#fcfcfc" stroke="#707070" stroke-width="0.45"/><circle cx="121.6" cy="370.4" r="1.05" fill="#fcfcfc" stroke="#707070" stroke-width="0.45"/><circle cx="123.0" cy="373.7" r="1.1" fill="#909090" stroke="#707070" stroke-width="0.45"/><circle cx="127.9" cy="374.5" r="1.05" fill="#fcfcfc" stroke="#707070" stroke-width="0.45"/><circle cx="125.0" cy="367.9" r="1.05" fill="#fcfcfc" stroke="#707070" stroke-width="0.45"/><circle cx="126.5" cy="371.2" r="1.1" fill="#909090" stroke="#707070" stroke-width="0.45"/><circle cx="132.1" cy="373.7" r="1.05" fill="#fcfcfc" stroke="#707070" stroke-width="0.45"/><circle cx="129.1" cy="367.0" r="1.05" fill="#fcfcfc" stroke="#707070" stroke-width="0.45"/><circle cx="130.6" cy="370.3" r="1.1" fill="#909090" stroke="#707070" stroke-width="0.45"/><circle cx="135.5" cy="371.2" r="1.05" fill="#fcfcfc" stroke="#707070" stroke-width="0.45"/><circle cx="132.5" cy="364.5" r="1.05" fill="#fcfcfc" stroke="#707070" stroke-width="0.45"/><circle cx="134.0" cy="367.9" r="1.1" fill="#909090" stroke="#707070" stroke-width="0.45"/><circle cx="139.6" cy="370.3" r="1.05" fill="#fcfcfc" stroke="#707070" stroke-width="0.45"/><circle cx="136.7" cy="363.7" r="1.05" fill="#fcfcfc" stroke="#707070" stroke-width="0.45"/><circle cx="138.1" cy="367.0" r="1.1" fill="#909090" stroke="#707070" stroke-width="0.45"/><circle cx="143.0" cy="367.8" r="1.05" fill="#fcfcfc" stroke="#707070" stroke-width="0.45"/><circle cx="140.1" cy="361.2" r="1.05" fill="#fcfcfc" stroke="#707070" stroke-width="0.45"/><circle cx="141.5" cy="364.5" r="1.1" fill="#909090" stroke="#707070" stroke-width="0.45"/><circle cx="147.2" cy="366.9" r="1.05" fill="#fcfcfc" stroke="#707070" stroke-width="0.45"/><circle cx="144.2" cy="360.3" r="1.05" fill="#fcfcfc" stroke="#707070" stroke-width="0.45"/><circle cx="145.7" cy="363.6" r="1.1" fill="#909090" stroke="#707070" stroke-width="0.45"/><circle cx="150.6" cy="364.5" r="1.05" fill="#fcfcfc" stroke="#707070" stroke-width="0.45"/><circle cx="147.6" cy="357.8" r="1.05" fill="#fcfcfc" stroke="#707070" stroke-width="0.45"/><circle cx="149.1" cy="361.2" r="1.1" fill="#909090" stroke="#707070" stroke-width="0.45"/><circle cx="154.7" cy="363.6" r="1.05" fill="#fcfcfc" stroke="#707070" stroke-width="0.45"/><circle cx="151.7" cy="357.0" r="1.05" fill="#fcfcfc" stroke="#707070" stroke-width="0.45"/><circle cx="153.2" cy="360.3" r="1.1" fill="#909090" stroke="#707070" stroke-width="0.45"/><circle cx="158.1" cy="361.1" r="1.05" fill="#fcfcfc" stroke="#707070" stroke-width="0.45"/><circle cx="155.2" cy="354.5" r="1.05" fill="#fcfcfc" stroke="#707070" stroke-width="0.45"/><circle cx="156.6" cy="357.8" r="1.1" fill="#909090" stroke="#707070" stroke-width="0.45"/><circle cx="156.0" cy="361.6" r="1.05" fill="#fcfcfc" stroke="#707070" stroke-width="0.45"/><circle cx="163.4" cy="362.4" r="1.05" fill="#fcfcfc" stroke="#707070" stroke-width="0.45"/><circle cx="159.7" cy="362.0" r="1.1" fill="#909090" stroke="#707070" stroke-width="0.45"/><circle cx="157.2" cy="366.4" r="1.05" fill="#fcfcfc" stroke="#707070" stroke-width="0.45"/><circle cx="164.6" cy="367.2" r="1.05" fill="#fcfcfc" stroke="#707070" stroke-width="0.45"/><circle cx="160.9" cy="366.8" r="1.1" fill="#909090" stroke="#707070" stroke-width="0.45"/><circle cx="154.9" cy="370.7" r="1.05" fill="#fcfcfc" stroke="#707070" stroke-width="0.45"/><circle cx="162.3" cy="371.6" r="1.05" fill="#fcfcfc" stroke="#707070" stroke-width="0.45"/><circle cx="158.6" cy="371.1" r="1.1" fill="#909090" stroke="#707070" stroke-width="0.45"/><circle cx="156.2" cy="375.5" r="1.05" fill="#fcfcfc" stroke="#707070" stroke-width="0.45"/><circle cx="163.6" cy="376.3" r="1.05" fill="#fcfcfc" stroke="#707070" stroke-width="0.45"/><circle cx="159.9" cy="375.9" r="1.1" fill="#909090" stroke="#707070" stroke-width="0.45"/><circle cx="153.9" cy="379.8" r="1.05" fill="#fcfcfc" stroke="#707070" stroke-width="0.45"/><circle cx="161.3" cy="380.7" r="1.05" fill="#fcfcfc" stroke="#707070" stroke-width="0.45"/><circle cx="157.6" cy="380.2" r="1.1" fill="#909090" stroke="#707070" stroke-width="0.45"/><circle cx="155.1" cy="384.6" r="1.05" fill="#fcfcfc" stroke="#707070" stroke-width="0.45"/><circle cx="162.5" cy="385.4" r="1.05" fill="#fcfcfc" stroke="#707070" stroke-width="0.45"/><circle cx="158.8" cy="385.0" r="1.1" fill="#909090" stroke="#707070" stroke-width="0.45"/><circle cx="152.9" cy="388.9" r="1.05" fill="#fcfcfc" stroke="#707070" stroke-width="0.45"/><circle cx="160.3" cy="389.8" r="1.05" fill="#fcfcfc" stroke="#707070" stroke-width="0.45"/><circle cx="156.6" cy="389.4" r="1.1" fill="#909090" stroke="#707070" stroke-width="0.45"/><circle cx="154.1" cy="393.7" r="1.05" fill="#fcfcfc" stroke="#707070" stroke-width="0.45"/><circle cx="161.5" cy="394.5" r="1.05" fill="#fcfcfc" stroke="#707070" stroke-width="0.45"/><circle cx="157.8" cy="394.1" r="1.1" fill="#909090" stroke="#707070" stroke-width="0.45"/><circle cx="151.8" cy="398.1" r="1.05" fill="#fcfcfc" stroke="#707070" stroke-width="0.45"/><circle cx="159.2" cy="398.9" r="1.05" fill="#fcfcfc" stroke="#707070" stroke-width="0.45"/><circle cx="155.5" cy="398.5" r="1.1" fill="#909090" stroke="#707070" stroke-width="0.45"/><circle cx="61.6" cy="405.8" r="1.05" fill="#fcfcfc" stroke="#707070" stroke-width="0.45"/><circle cx="155.2" cy="401.8" r="1.05" fill="#fcfcfc" stroke="#707070" stroke-width="0.45"/><circle cx="44.5" cy="362.1" r="1.05" fill="#fcfcfc" stroke="#707070" stroke-width="0.45"/><circle cx="162.6" cy="359.9" r="1.05" fill="#fcfcfc" stroke="#707070" stroke-width="0.45"/><circle cx="87.3" cy="365.3" r="1.3" fill="#d41a1a" stroke="#a01010" stroke-width="0.45"/><circle cx="86.5" cy="372.2" r="1.3" fill="#d41a1a" stroke="#a01010" stroke-width="0.45"/><circle cx="93.4" cy="346.5" r="1.3" fill="#d41a1a" stroke="#a01010" stroke-width="0.45"/><circle cx="111.1" cy="375.1" r="1.3" fill="#d41a1a" stroke="#a01010" stroke-width="0.45"/><circle cx="116.0" cy="363.5" r="1.3" fill="#7585e6" stroke="#5565c8" stroke-width="0.45"/><circle cx="101.2" cy="352.0" r="1.3" fill="#7585e6" stroke="#5565c8" stroke-width="0.45"/><circle cx="118.4" cy="375.8" r="1.3" fill="#7585e6" stroke="#5565c8" stroke-width="0.45"/></g><rect x="90.40" y="343.80" width="5.90" height="6.20" fill="none" stroke="#4472c4" stroke-width="0.7"/><line x1="90.6" y1="343.9" x2="85.6" y2="338.8" stroke="#4472c4" stroke-width="0.9"/><polygon points="84.2,337.4 87.6,338.6 85.4,340.8" fill="#4472c4"/><text x="60.80" y="162.40" font-size="8.40" text-anchor="start" class="t" >Ionizable lipid</text><text x="60.80" y="172.20" font-size="8.85" text-anchor="start" class="t" >Atom Numbers: n</text>
</svg>
</body></html>
